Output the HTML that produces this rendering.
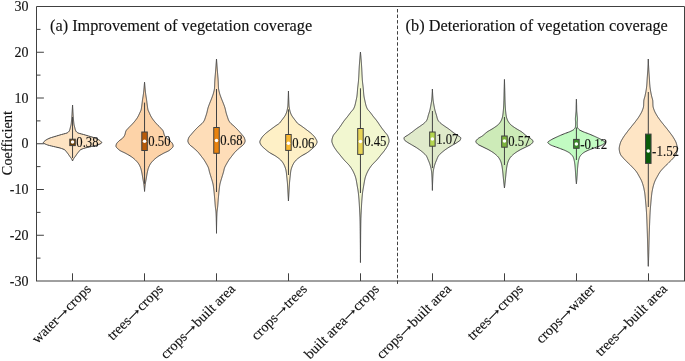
<!DOCTYPE html><html><head><meta charset="utf-8"><style>html,body{margin:0;padding:0;background:#fff;overflow:hidden}svg{display:block;will-change:transform}text{font-family:"Liberation Serif",serif;fill:#111;stroke:#111;stroke-width:0.12px}</style></head><body>
<svg width="685" height="361" viewBox="0 0 685 361">
<rect width="685" height="361" fill="#fff"/>
<path d="M72.55,105.00 L72.58,105.50 L72.60,106.00 L72.63,106.50 L72.66,107.00 L72.68,107.50 L72.71,108.00 L72.74,108.50 L72.77,109.00 L72.80,109.50 L72.83,110.00 L72.86,110.50 L72.89,111.00 L72.92,111.50 L72.95,112.00 L72.98,112.50 L73.01,113.00 L73.04,113.50 L73.07,114.00 L73.10,114.50 L73.14,115.00 L73.17,115.50 L73.20,116.00 L73.24,116.50 L73.27,117.00 L73.31,117.50 L73.35,118.00 L73.39,118.50 L73.43,119.00 L73.47,119.50 L73.51,120.00 L73.56,120.50 L73.60,121.00 L73.65,121.50 L73.70,122.00 L73.76,122.50 L73.82,123.00 L73.88,123.50 L73.95,124.00 L74.03,124.50 L74.13,125.00 L74.24,125.50 L74.36,126.00 L74.49,126.50 L74.62,127.00 L74.75,127.50 L74.88,128.00 L75.00,128.50 L75.12,129.00 L75.26,129.50 L75.42,130.00 L75.62,130.50 L75.85,131.00 L76.18,131.50 L76.66,132.00 L77.29,132.50 L78.15,133.00 L79.71,133.50 L81.67,134.00 L83.55,134.50 L85.23,135.00 L86.90,135.50 L88.56,136.00 L90.22,136.50 L91.95,137.00 L93.62,137.50 L95.05,138.00 L96.25,138.50 L97.31,139.00 L98.25,139.50 L99.06,140.00 L99.80,140.50 L100.44,141.00 L100.95,141.50 L101.40,142.00 L101.71,142.50 L101.63,143.00 L100.98,143.50 L99.94,144.00 L98.71,144.50 L97.40,145.00 L95.64,145.50 L93.57,146.00 L91.45,146.50 L89.35,147.00 L87.10,147.50 L85.04,148.00 L83.48,148.50 L82.15,149.00 L81.02,149.50 L80.18,150.00 L79.63,150.50 L79.23,151.00 L78.88,151.50 L78.49,152.00 L78.09,152.50 L77.70,153.00 L77.32,153.50 L76.95,154.00 L76.59,154.50 L76.25,155.00 L75.91,155.50 L75.57,156.00 L75.22,156.50 L74.85,157.00 L74.46,157.50 L74.08,158.00 L73.73,158.50 L73.44,159.00 L73.18,159.50 L72.94,160.00 L72.73,160.50 L72.55,161.00 L72.55,161.00 L72.37,160.50 L72.16,160.00 L71.92,159.50 L71.66,159.00 L71.37,158.50 L71.02,158.00 L70.64,157.50 L70.25,157.00 L69.88,156.50 L69.53,156.00 L69.19,155.50 L68.85,155.00 L68.51,154.50 L68.15,154.00 L67.78,153.50 L67.40,153.00 L67.01,152.50 L66.61,152.00 L66.22,151.50 L65.87,151.00 L65.47,150.50 L64.92,150.00 L64.08,149.50 L62.95,149.00 L61.62,148.50 L60.06,148.00 L58.00,147.50 L55.75,147.00 L53.65,146.50 L51.53,146.00 L49.46,145.50 L47.70,145.00 L46.39,144.50 L45.16,144.00 L44.12,143.50 L43.47,143.00 L43.39,142.50 L43.70,142.00 L44.15,141.50 L44.66,141.00 L45.30,140.50 L46.04,140.00 L46.85,139.50 L47.79,139.00 L48.85,138.50 L50.05,138.00 L51.48,137.50 L53.15,137.00 L54.88,136.50 L56.54,136.00 L58.20,135.50 L59.87,135.00 L61.55,134.50 L63.43,134.00 L65.39,133.50 L66.95,133.00 L67.81,132.50 L68.44,132.00 L68.92,131.50 L69.25,131.00 L69.48,130.50 L69.68,130.00 L69.84,129.50 L69.98,129.00 L70.10,128.50 L70.22,128.00 L70.35,127.50 L70.48,127.00 L70.61,126.50 L70.74,126.00 L70.86,125.50 L70.97,125.00 L71.07,124.50 L71.15,124.00 L71.22,123.50 L71.28,123.00 L71.34,122.50 L71.40,122.00 L71.45,121.50 L71.50,121.00 L71.54,120.50 L71.59,120.00 L71.63,119.50 L71.67,119.00 L71.71,118.50 L71.75,118.00 L71.79,117.50 L71.83,117.00 L71.86,116.50 L71.90,116.00 L71.93,115.50 L71.96,115.00 L72.00,114.50 L72.03,114.00 L72.06,113.50 L72.09,113.00 L72.12,112.50 L72.15,112.00 L72.18,111.50 L72.21,111.00 L72.24,110.50 L72.27,110.00 L72.30,109.50 L72.33,109.00 L72.36,108.50 L72.39,108.00 L72.42,107.50 L72.44,107.00 L72.47,106.50 L72.50,106.00 L72.52,105.50 L72.55,105.00 Z" fill="#FDE3C2" stroke="#404040" stroke-width="1" stroke-linejoin="round"/>
<path d="M144.55,82.20 L144.59,82.70 L144.63,83.20 L144.67,83.70 L144.71,84.20 L144.76,84.70 L144.80,85.21 L144.84,85.71 L144.89,86.21 L144.93,86.71 L144.98,87.21 L145.02,87.71 L145.07,88.21 L145.12,88.71 L145.16,89.21 L145.21,89.71 L145.26,90.21 L145.30,90.72 L145.35,91.22 L145.41,91.72 L145.46,92.22 L145.52,92.72 L145.58,93.22 L145.64,93.72 L145.71,94.22 L145.78,94.72 L145.86,95.22 L145.94,95.72 L146.02,96.23 L146.10,96.73 L146.18,97.23 L146.27,97.73 L146.35,98.23 L146.42,98.73 L146.50,99.23 L146.57,99.73 L146.64,100.23 L146.70,100.73 L146.77,101.23 L146.83,101.74 L146.89,102.24 L146.95,102.74 L147.02,103.24 L147.08,103.74 L147.15,104.24 L147.21,104.74 L147.28,105.24 L147.35,105.74 L147.41,106.24 L147.48,106.74 L147.54,107.25 L147.61,107.75 L147.69,108.25 L147.77,108.75 L147.87,109.25 L147.99,109.75 L148.14,110.25 L148.34,110.75 L148.56,111.25 L148.80,111.75 L149.05,112.26 L149.28,112.76 L149.51,113.26 L149.73,113.76 L149.95,114.26 L150.18,114.76 L150.42,115.26 L150.66,115.76 L150.92,116.26 L151.20,116.76 L151.49,117.26 L151.80,117.77 L152.13,118.27 L152.47,118.77 L152.82,119.27 L153.18,119.77 L153.55,120.27 L153.94,120.77 L154.35,121.27 L154.77,121.77 L155.20,122.27 L155.64,122.77 L156.09,123.28 L156.55,123.78 L157.01,124.28 L157.48,124.78 L157.98,125.28 L158.48,125.78 L158.99,126.28 L159.49,126.78 L159.98,127.28 L160.45,127.78 L160.91,128.28 L161.39,128.79 L161.87,129.29 L162.32,129.79 L162.72,130.29 L163.04,130.79 L163.27,131.29 L163.45,131.79 L163.59,132.29 L163.72,132.79 L163.83,133.29 L163.96,133.79 L164.10,134.30 L164.27,134.80 L164.48,135.30 L164.74,135.80 L165.05,136.30 L165.39,136.80 L165.77,137.30 L166.18,137.80 L166.64,138.30 L167.24,138.80 L167.92,139.30 L168.64,139.81 L169.33,140.31 L169.95,140.81 L170.46,141.31 L170.97,141.81 L171.46,142.31 L171.91,142.81 L172.29,143.31 L172.57,143.81 L172.77,144.31 L172.94,144.81 L173.07,145.32 L173.14,145.82 L173.12,146.32 L172.95,146.82 L172.65,147.32 L172.25,147.82 L171.76,148.32 L171.22,148.82 L170.65,149.32 L170.06,149.82 L169.43,150.32 L168.61,150.83 L167.65,151.33 L166.60,151.83 L165.52,152.33 L164.45,152.83 L163.46,153.33 L162.56,153.83 L161.67,154.33 L160.79,154.83 L159.93,155.33 L159.10,155.83 L158.31,156.34 L157.58,156.84 L156.89,157.34 L156.24,157.84 L155.61,158.34 L155.02,158.84 L154.45,159.34 L153.91,159.84 L153.40,160.34 L152.92,160.84 L152.44,161.34 L151.99,161.85 L151.55,162.35 L151.15,162.85 L150.78,163.35 L150.44,163.85 L150.14,164.35 L149.86,164.85 L149.60,165.35 L149.35,165.85 L149.11,166.35 L148.89,166.86 L148.69,167.36 L148.50,167.86 L148.33,168.36 L148.17,168.86 L148.03,169.36 L147.90,169.86 L147.77,170.36 L147.65,170.86 L147.54,171.36 L147.44,171.86 L147.34,172.37 L147.24,172.87 L147.14,173.37 L147.04,173.87 L146.95,174.37 L146.86,174.87 L146.77,175.37 L146.68,175.87 L146.60,176.37 L146.52,176.87 L146.44,177.37 L146.35,177.88 L146.27,178.38 L146.19,178.88 L146.10,179.38 L146.01,179.88 L145.92,180.38 L145.83,180.88 L145.74,181.38 L145.64,181.88 L145.55,182.38 L145.47,182.88 L145.38,183.39 L145.30,183.89 L145.23,184.39 L145.16,184.89 L145.10,185.39 L145.04,185.89 L144.99,186.39 L144.93,186.89 L144.88,187.39 L144.83,187.89 L144.78,188.39 L144.73,188.90 L144.69,189.40 L144.65,189.90 L144.61,190.40 L144.58,190.90 L144.55,191.40 L144.55,191.40 L144.52,190.90 L144.49,190.40 L144.45,189.90 L144.41,189.40 L144.37,188.90 L144.32,188.39 L144.27,187.89 L144.22,187.39 L144.17,186.89 L144.11,186.39 L144.06,185.89 L144.00,185.39 L143.94,184.89 L143.87,184.39 L143.80,183.89 L143.72,183.39 L143.63,182.88 L143.55,182.38 L143.46,181.88 L143.36,181.38 L143.27,180.88 L143.18,180.38 L143.09,179.88 L143.00,179.38 L142.91,178.88 L142.83,178.38 L142.75,177.88 L142.66,177.37 L142.58,176.87 L142.50,176.37 L142.42,175.87 L142.33,175.37 L142.24,174.87 L142.15,174.37 L142.06,173.87 L141.96,173.37 L141.86,172.87 L141.76,172.37 L141.66,171.86 L141.56,171.36 L141.45,170.86 L141.33,170.36 L141.20,169.86 L141.07,169.36 L140.93,168.86 L140.77,168.36 L140.60,167.86 L140.41,167.36 L140.21,166.86 L139.99,166.35 L139.75,165.85 L139.50,165.35 L139.24,164.85 L138.96,164.35 L138.66,163.85 L138.32,163.35 L137.95,162.85 L137.55,162.35 L137.11,161.85 L136.66,161.34 L136.18,160.84 L135.70,160.34 L135.19,159.84 L134.65,159.34 L134.08,158.84 L133.49,158.34 L132.86,157.84 L132.21,157.34 L131.52,156.84 L130.79,156.34 L130.00,155.83 L129.17,155.33 L128.31,154.83 L127.43,154.33 L126.54,153.83 L125.64,153.33 L124.65,152.83 L123.58,152.33 L122.50,151.83 L121.45,151.33 L120.49,150.83 L119.67,150.32 L119.04,149.82 L118.45,149.32 L117.88,148.82 L117.34,148.32 L116.85,147.82 L116.45,147.32 L116.15,146.82 L115.98,146.32 L115.96,145.82 L116.03,145.32 L116.16,144.81 L116.33,144.31 L116.53,143.81 L116.81,143.31 L117.19,142.81 L117.64,142.31 L118.13,141.81 L118.64,141.31 L119.15,140.81 L119.77,140.31 L120.46,139.81 L121.18,139.30 L121.86,138.80 L122.46,138.30 L122.92,137.80 L123.33,137.30 L123.71,136.80 L124.05,136.30 L124.36,135.80 L124.62,135.30 L124.83,134.80 L125.00,134.30 L125.14,133.79 L125.27,133.29 L125.38,132.79 L125.51,132.29 L125.65,131.79 L125.83,131.29 L126.06,130.79 L126.38,130.29 L126.78,129.79 L127.23,129.29 L127.71,128.79 L128.19,128.28 L128.65,127.78 L129.12,127.28 L129.61,126.78 L130.11,126.28 L130.62,125.78 L131.12,125.28 L131.62,124.78 L132.09,124.28 L132.55,123.78 L133.01,123.28 L133.46,122.77 L133.90,122.27 L134.33,121.77 L134.75,121.27 L135.16,120.77 L135.55,120.27 L135.92,119.77 L136.28,119.27 L136.63,118.77 L136.97,118.27 L137.30,117.77 L137.61,117.26 L137.90,116.76 L138.18,116.26 L138.44,115.76 L138.68,115.26 L138.92,114.76 L139.15,114.26 L139.37,113.76 L139.59,113.26 L139.82,112.76 L140.05,112.26 L140.30,111.75 L140.54,111.25 L140.76,110.75 L140.96,110.25 L141.11,109.75 L141.23,109.25 L141.33,108.75 L141.41,108.25 L141.49,107.75 L141.56,107.25 L141.62,106.74 L141.69,106.24 L141.75,105.74 L141.82,105.24 L141.89,104.74 L141.95,104.24 L142.02,103.74 L142.08,103.24 L142.15,102.74 L142.21,102.24 L142.27,101.74 L142.33,101.23 L142.40,100.73 L142.46,100.23 L142.53,99.73 L142.60,99.23 L142.68,98.73 L142.75,98.23 L142.83,97.73 L142.92,97.23 L143.00,96.73 L143.08,96.23 L143.16,95.72 L143.24,95.22 L143.32,94.72 L143.39,94.22 L143.46,93.72 L143.52,93.22 L143.58,92.72 L143.64,92.22 L143.69,91.72 L143.75,91.22 L143.80,90.72 L143.84,90.21 L143.89,89.71 L143.94,89.21 L143.98,88.71 L144.03,88.21 L144.08,87.71 L144.12,87.21 L144.17,86.71 L144.21,86.21 L144.26,85.71 L144.30,85.21 L144.34,84.70 L144.39,84.20 L144.43,83.70 L144.47,83.20 L144.51,82.70 L144.55,82.20 Z" fill="#FDD3A8" stroke="#404040" stroke-width="1" stroke-linejoin="round"/>
<path d="M216.50,59.00 L216.54,59.50 L216.57,60.00 L216.61,60.50 L216.65,61.00 L216.68,61.50 L216.72,62.01 L216.76,62.51 L216.79,63.01 L216.83,63.51 L216.87,64.01 L216.91,64.51 L216.94,65.01 L216.98,65.51 L217.02,66.01 L217.06,66.51 L217.09,67.01 L217.13,67.51 L217.17,68.02 L217.21,68.52 L217.25,69.02 L217.29,69.52 L217.32,70.02 L217.36,70.52 L217.40,71.02 L217.44,71.52 L217.48,72.02 L217.52,72.52 L217.57,73.02 L217.61,73.53 L217.65,74.03 L217.70,74.53 L217.74,75.03 L217.79,75.53 L217.83,76.03 L217.87,76.53 L217.92,77.03 L217.96,77.53 L218.00,78.03 L218.04,78.53 L218.07,79.03 L218.11,79.54 L218.14,80.04 L218.17,80.54 L218.20,81.04 L218.23,81.54 L218.25,82.04 L218.27,82.54 L218.29,83.04 L218.30,83.54 L218.32,84.04 L218.34,84.54 L218.35,85.04 L218.37,85.55 L218.39,86.05 L218.41,86.55 L218.44,87.05 L218.47,87.55 L218.50,88.05 L218.55,88.55 L218.62,89.05 L218.70,89.55 L218.79,90.05 L218.90,90.55 L219.01,91.06 L219.14,91.56 L219.26,92.06 L219.39,92.56 L219.51,93.06 L219.65,93.56 L219.80,94.06 L219.96,94.56 L220.12,95.06 L220.30,95.56 L220.48,96.06 L220.67,96.56 L220.85,97.07 L221.04,97.57 L221.22,98.07 L221.41,98.57 L221.61,99.07 L221.81,99.57 L222.02,100.07 L222.22,100.57 L222.43,101.07 L222.64,101.57 L222.84,102.07 L223.04,102.58 L223.23,103.08 L223.42,103.58 L223.61,104.08 L223.81,104.58 L224.00,105.08 L224.19,105.58 L224.37,106.08 L224.55,106.58 L224.72,107.08 L224.88,107.58 L225.02,108.08 L225.16,108.59 L225.29,109.09 L225.40,109.59 L225.52,110.09 L225.63,110.59 L225.74,111.09 L225.85,111.59 L225.97,112.09 L226.09,112.59 L226.23,113.09 L226.37,113.59 L226.52,114.09 L226.67,114.60 L226.83,115.10 L226.99,115.60 L227.16,116.10 L227.33,116.60 L227.50,117.10 L227.67,117.60 L227.83,118.10 L227.99,118.60 L228.16,119.10 L228.34,119.60 L228.55,120.11 L228.80,120.61 L229.10,121.11 L229.43,121.61 L229.79,122.11 L230.18,122.61 L230.60,123.11 L231.09,123.61 L231.65,124.11 L232.25,124.61 L232.87,125.11 L233.47,125.61 L234.02,126.12 L234.55,126.62 L235.07,127.12 L235.58,127.62 L236.08,128.12 L236.58,128.62 L237.07,129.12 L237.54,129.62 L238.01,130.12 L238.48,130.62 L238.93,131.12 L239.38,131.62 L239.82,132.13 L240.26,132.63 L240.68,133.13 L241.10,133.63 L241.51,134.13 L241.93,134.63 L242.37,135.13 L242.82,135.63 L243.24,136.13 L243.63,136.63 L243.97,137.13 L244.25,137.64 L244.45,138.14 L244.62,138.64 L244.78,139.14 L244.92,139.64 L245.02,140.14 L245.09,140.64 L245.10,141.14 L245.02,141.64 L244.87,142.14 L244.65,142.64 L244.39,143.14 L244.11,143.65 L243.81,144.15 L243.42,144.65 L242.92,145.15 L242.35,145.65 L241.72,146.15 L241.07,146.65 L240.42,147.15 L239.80,147.65 L239.23,148.15 L238.67,148.65 L238.11,149.16 L237.54,149.66 L236.99,150.16 L236.44,150.66 L235.92,151.16 L235.42,151.66 L234.95,152.16 L234.51,152.66 L234.10,153.16 L233.69,153.66 L233.30,154.16 L232.92,154.66 L232.54,155.17 L232.16,155.67 L231.77,156.17 L231.38,156.67 L230.99,157.17 L230.60,157.67 L230.22,158.17 L229.84,158.67 L229.47,159.17 L229.12,159.67 L228.78,160.17 L228.46,160.68 L228.14,161.18 L227.83,161.68 L227.53,162.18 L227.24,162.68 L226.96,163.18 L226.68,163.68 L226.40,164.18 L226.12,164.68 L225.84,165.18 L225.56,165.68 L225.30,166.18 L225.05,166.69 L224.81,167.19 L224.61,167.69 L224.44,168.19 L224.29,168.69 L224.16,169.19 L224.04,169.69 L223.93,170.19 L223.82,170.69 L223.70,171.19 L223.58,171.69 L223.45,172.19 L223.31,172.70 L223.16,173.20 L223.01,173.70 L222.86,174.20 L222.71,174.70 L222.55,175.20 L222.40,175.70 L222.24,176.20 L222.09,176.70 L221.94,177.20 L221.79,177.70 L221.63,178.21 L221.47,178.71 L221.32,179.21 L221.16,179.71 L221.01,180.21 L220.86,180.71 L220.71,181.21 L220.58,181.71 L220.44,182.21 L220.31,182.71 L220.19,183.21 L220.06,183.71 L219.95,184.22 L219.85,184.72 L219.76,185.22 L219.69,185.72 L219.61,186.22 L219.54,186.72 L219.48,187.22 L219.41,187.72 L219.35,188.22 L219.30,188.72 L219.24,189.22 L219.19,189.73 L219.13,190.23 L219.08,190.73 L219.03,191.23 L218.98,191.73 L218.92,192.23 L218.87,192.73 L218.82,193.23 L218.77,193.73 L218.73,194.23 L218.68,194.73 L218.63,195.23 L218.59,195.74 L218.54,196.24 L218.50,196.74 L218.45,197.24 L218.41,197.74 L218.37,198.24 L218.32,198.74 L218.28,199.24 L218.24,199.74 L218.20,200.24 L218.16,200.74 L218.12,201.24 L218.08,201.75 L218.04,202.25 L218.01,202.75 L217.97,203.25 L217.93,203.75 L217.89,204.25 L217.85,204.75 L217.80,205.25 L217.76,205.75 L217.71,206.25 L217.66,206.75 L217.61,207.26 L217.54,207.76 L217.48,208.26 L217.41,208.76 L217.34,209.26 L217.27,209.76 L217.21,210.26 L217.15,210.76 L217.09,211.26 L217.05,211.76 L217.01,212.26 L216.98,212.76 L216.95,213.27 L216.92,213.77 L216.90,214.27 L216.87,214.77 L216.85,215.27 L216.83,215.77 L216.81,216.27 L216.79,216.77 L216.78,217.27 L216.76,217.77 L216.74,218.27 L216.73,218.78 L216.72,219.28 L216.71,219.78 L216.69,220.28 L216.68,220.78 L216.67,221.28 L216.66,221.78 L216.65,222.28 L216.64,222.78 L216.63,223.28 L216.62,223.78 L216.61,224.28 L216.60,224.79 L216.59,225.29 L216.58,225.79 L216.57,226.29 L216.56,226.79 L216.55,227.29 L216.54,227.79 L216.54,228.29 L216.53,228.79 L216.52,229.29 L216.52,229.79 L216.51,230.29 L216.51,230.80 L216.51,231.30 L216.50,231.80 L216.50,232.30 L216.50,232.80 L216.50,233.30 L216.50,233.30 L216.50,232.80 L216.50,232.30 L216.50,231.80 L216.49,231.30 L216.49,230.80 L216.49,230.29 L216.48,229.79 L216.48,229.29 L216.47,228.79 L216.46,228.29 L216.46,227.79 L216.45,227.29 L216.44,226.79 L216.43,226.29 L216.42,225.79 L216.41,225.29 L216.40,224.79 L216.39,224.28 L216.38,223.78 L216.37,223.28 L216.36,222.78 L216.35,222.28 L216.34,221.78 L216.33,221.28 L216.32,220.78 L216.31,220.28 L216.29,219.78 L216.28,219.28 L216.27,218.78 L216.26,218.27 L216.24,217.77 L216.22,217.27 L216.21,216.77 L216.19,216.27 L216.17,215.77 L216.15,215.27 L216.13,214.77 L216.10,214.27 L216.08,213.77 L216.05,213.27 L216.02,212.76 L215.99,212.26 L215.95,211.76 L215.91,211.26 L215.85,210.76 L215.79,210.26 L215.73,209.76 L215.66,209.26 L215.59,208.76 L215.52,208.26 L215.46,207.76 L215.39,207.26 L215.34,206.75 L215.29,206.25 L215.24,205.75 L215.20,205.25 L215.15,204.75 L215.11,204.25 L215.07,203.75 L215.03,203.25 L214.99,202.75 L214.96,202.25 L214.92,201.75 L214.88,201.24 L214.84,200.74 L214.80,200.24 L214.76,199.74 L214.72,199.24 L214.68,198.74 L214.63,198.24 L214.59,197.74 L214.55,197.24 L214.50,196.74 L214.46,196.24 L214.41,195.74 L214.37,195.23 L214.32,194.73 L214.27,194.23 L214.23,193.73 L214.18,193.23 L214.13,192.73 L214.08,192.23 L214.02,191.73 L213.97,191.23 L213.92,190.73 L213.87,190.23 L213.81,189.73 L213.76,189.22 L213.70,188.72 L213.65,188.22 L213.59,187.72 L213.52,187.22 L213.46,186.72 L213.39,186.22 L213.31,185.72 L213.24,185.22 L213.15,184.72 L213.05,184.22 L212.94,183.71 L212.81,183.21 L212.69,182.71 L212.56,182.21 L212.42,181.71 L212.29,181.21 L212.14,180.71 L211.99,180.21 L211.84,179.71 L211.68,179.21 L211.53,178.71 L211.37,178.21 L211.21,177.70 L211.06,177.20 L210.91,176.70 L210.76,176.20 L210.60,175.70 L210.45,175.20 L210.29,174.70 L210.14,174.20 L209.99,173.70 L209.84,173.20 L209.69,172.70 L209.55,172.19 L209.42,171.69 L209.30,171.19 L209.18,170.69 L209.07,170.19 L208.96,169.69 L208.84,169.19 L208.71,168.69 L208.56,168.19 L208.39,167.69 L208.19,167.19 L207.95,166.69 L207.70,166.18 L207.44,165.68 L207.16,165.18 L206.88,164.68 L206.60,164.18 L206.32,163.68 L206.04,163.18 L205.76,162.68 L205.47,162.18 L205.17,161.68 L204.86,161.18 L204.54,160.68 L204.22,160.17 L203.88,159.67 L203.53,159.17 L203.16,158.67 L202.78,158.17 L202.40,157.67 L202.01,157.17 L201.62,156.67 L201.23,156.17 L200.84,155.67 L200.46,155.17 L200.08,154.66 L199.70,154.16 L199.31,153.66 L198.90,153.16 L198.49,152.66 L198.05,152.16 L197.58,151.66 L197.08,151.16 L196.56,150.66 L196.01,150.16 L195.46,149.66 L194.89,149.16 L194.33,148.65 L193.77,148.15 L193.20,147.65 L192.58,147.15 L191.93,146.65 L191.28,146.15 L190.65,145.65 L190.08,145.15 L189.58,144.65 L189.19,144.15 L188.89,143.65 L188.61,143.14 L188.35,142.64 L188.13,142.14 L187.98,141.64 L187.90,141.14 L187.91,140.64 L187.98,140.14 L188.08,139.64 L188.22,139.14 L188.38,138.64 L188.55,138.14 L188.75,137.64 L189.03,137.13 L189.37,136.63 L189.76,136.13 L190.18,135.63 L190.63,135.13 L191.07,134.63 L191.49,134.13 L191.90,133.63 L192.32,133.13 L192.74,132.63 L193.18,132.13 L193.62,131.62 L194.07,131.12 L194.52,130.62 L194.99,130.12 L195.46,129.62 L195.93,129.12 L196.42,128.62 L196.92,128.12 L197.42,127.62 L197.93,127.12 L198.45,126.62 L198.98,126.12 L199.53,125.61 L200.13,125.11 L200.75,124.61 L201.35,124.11 L201.91,123.61 L202.40,123.11 L202.82,122.61 L203.21,122.11 L203.57,121.61 L203.90,121.11 L204.20,120.61 L204.45,120.11 L204.66,119.60 L204.84,119.10 L205.01,118.60 L205.17,118.10 L205.33,117.60 L205.50,117.10 L205.67,116.60 L205.84,116.10 L206.01,115.60 L206.17,115.10 L206.33,114.60 L206.48,114.09 L206.63,113.59 L206.77,113.09 L206.91,112.59 L207.03,112.09 L207.15,111.59 L207.26,111.09 L207.37,110.59 L207.48,110.09 L207.60,109.59 L207.71,109.09 L207.84,108.59 L207.98,108.08 L208.12,107.58 L208.28,107.08 L208.45,106.58 L208.63,106.08 L208.81,105.58 L209.00,105.08 L209.19,104.58 L209.39,104.08 L209.58,103.58 L209.77,103.08 L209.96,102.58 L210.16,102.07 L210.36,101.57 L210.57,101.07 L210.78,100.57 L210.98,100.07 L211.19,99.57 L211.39,99.07 L211.59,98.57 L211.78,98.07 L211.96,97.57 L212.15,97.07 L212.33,96.56 L212.52,96.06 L212.70,95.56 L212.88,95.06 L213.04,94.56 L213.20,94.06 L213.35,93.56 L213.49,93.06 L213.61,92.56 L213.74,92.06 L213.86,91.56 L213.99,91.06 L214.10,90.55 L214.21,90.05 L214.30,89.55 L214.38,89.05 L214.45,88.55 L214.50,88.05 L214.53,87.55 L214.56,87.05 L214.59,86.55 L214.61,86.05 L214.63,85.55 L214.65,85.04 L214.66,84.54 L214.68,84.04 L214.70,83.54 L214.71,83.04 L214.73,82.54 L214.75,82.04 L214.77,81.54 L214.80,81.04 L214.83,80.54 L214.86,80.04 L214.89,79.54 L214.93,79.03 L214.96,78.53 L215.00,78.03 L215.04,77.53 L215.08,77.03 L215.13,76.53 L215.17,76.03 L215.21,75.53 L215.26,75.03 L215.30,74.53 L215.35,74.03 L215.39,73.53 L215.43,73.02 L215.48,72.52 L215.52,72.02 L215.56,71.52 L215.60,71.02 L215.64,70.52 L215.68,70.02 L215.71,69.52 L215.75,69.02 L215.79,68.52 L215.83,68.02 L215.87,67.51 L215.91,67.01 L215.94,66.51 L215.98,66.01 L216.02,65.51 L216.06,65.01 L216.09,64.51 L216.13,64.01 L216.17,63.51 L216.21,63.01 L216.24,62.51 L216.28,62.01 L216.32,61.50 L216.35,61.00 L216.39,60.50 L216.43,60.00 L216.46,59.50 L216.50,59.00 Z" fill="#FEDDB8" stroke="#404040" stroke-width="1" stroke-linejoin="round"/>
<path d="M288.45,91.00 L288.46,91.50 L288.47,92.00 L288.49,92.50 L288.50,93.00 L288.52,93.50 L288.53,94.00 L288.55,94.50 L288.56,95.00 L288.58,95.50 L288.60,96.00 L288.62,96.50 L288.63,97.00 L288.65,97.50 L288.67,98.00 L288.69,98.50 L288.71,99.00 L288.73,99.50 L288.75,100.00 L288.77,100.50 L288.79,101.00 L288.81,101.50 L288.83,102.00 L288.85,102.50 L288.87,103.00 L288.89,103.50 L288.92,104.00 L288.95,104.50 L288.98,105.00 L289.01,105.50 L289.05,106.00 L289.10,106.50 L289.18,107.00 L289.26,107.50 L289.35,108.00 L289.44,108.50 L289.52,109.00 L289.62,109.50 L289.72,110.00 L289.83,110.50 L289.95,111.00 L290.09,111.50 L290.24,112.00 L290.40,112.50 L290.59,113.00 L290.78,113.50 L290.99,114.00 L291.21,114.50 L291.45,115.00 L291.72,115.50 L292.03,116.00 L292.36,116.50 L292.72,117.00 L293.09,117.50 L293.45,118.00 L293.82,118.50 L294.19,119.00 L294.58,119.50 L294.98,120.00 L295.37,120.50 L295.75,121.00 L296.11,121.50 L296.45,122.00 L296.82,122.50 L297.25,123.00 L297.80,123.50 L298.46,124.00 L299.19,124.50 L299.96,125.00 L300.73,125.50 L301.45,126.00 L302.14,126.50 L302.82,127.00 L303.51,127.50 L304.19,128.00 L304.86,128.50 L305.53,129.00 L306.20,129.50 L306.85,130.00 L307.51,130.50 L308.17,131.00 L308.83,131.50 L309.48,132.00 L310.12,132.50 L310.73,133.00 L311.31,133.50 L311.85,134.00 L312.36,134.50 L312.87,135.00 L313.36,135.50 L313.83,136.00 L314.27,136.50 L314.67,137.00 L315.04,137.50 L315.35,138.00 L315.64,138.50 L315.94,139.00 L316.22,139.50 L316.49,140.00 L316.71,140.50 L316.89,141.00 L317.01,141.50 L317.05,142.00 L317.00,142.50 L316.86,143.00 L316.66,143.50 L316.41,144.00 L316.13,144.50 L315.85,145.00 L315.52,145.50 L315.12,146.00 L314.65,146.50 L314.13,147.00 L313.57,147.50 L313.00,148.00 L312.42,148.50 L311.85,149.00 L311.28,149.50 L310.70,150.00 L310.10,150.50 L309.48,151.00 L308.83,151.50 L308.16,152.00 L307.45,152.50 L306.68,153.00 L305.83,153.50 L304.93,154.00 L304.01,154.50 L303.10,155.00 L302.22,155.50 L301.40,156.00 L300.66,156.50 L299.95,157.00 L299.25,157.50 L298.58,158.00 L297.93,158.50 L297.31,159.00 L296.74,159.50 L296.21,160.00 L295.74,160.50 L295.31,161.00 L294.91,161.50 L294.53,162.00 L294.18,162.50 L293.84,163.00 L293.53,163.50 L293.25,164.00 L292.99,164.50 L292.75,165.00 L292.53,165.50 L292.32,166.00 L292.11,166.50 L291.91,167.00 L291.73,167.50 L291.56,168.00 L291.39,168.50 L291.24,169.00 L291.11,169.50 L290.99,170.00 L290.89,170.50 L290.80,171.00 L290.72,171.50 L290.65,172.00 L290.58,172.50 L290.52,173.00 L290.46,173.50 L290.41,174.00 L290.35,174.50 L290.30,175.00 L290.25,175.50 L290.20,176.00 L290.15,176.50 L290.10,177.00 L290.04,177.50 L289.99,178.00 L289.93,178.50 L289.88,179.00 L289.83,179.50 L289.78,180.00 L289.73,180.50 L289.68,181.00 L289.63,181.50 L289.59,182.00 L289.54,182.50 L289.50,183.00 L289.46,183.50 L289.43,184.00 L289.39,184.50 L289.36,185.00 L289.33,185.50 L289.30,186.00 L289.27,186.50 L289.24,187.00 L289.21,187.50 L289.18,188.00 L289.16,188.50 L289.13,189.00 L289.10,189.50 L289.08,190.00 L289.05,190.50 L289.02,191.00 L289.00,191.50 L288.97,192.00 L288.94,192.50 L288.91,193.00 L288.88,193.50 L288.85,194.00 L288.82,194.50 L288.79,195.00 L288.77,195.50 L288.74,196.00 L288.71,196.50 L288.68,197.00 L288.65,197.50 L288.62,198.00 L288.59,198.50 L288.56,199.00 L288.54,199.50 L288.51,200.00 L288.48,200.50 L288.45,201.00 L288.45,201.00 L288.42,200.50 L288.39,200.00 L288.36,199.50 L288.34,199.00 L288.31,198.50 L288.28,198.00 L288.25,197.50 L288.22,197.00 L288.19,196.50 L288.16,196.00 L288.13,195.50 L288.11,195.00 L288.08,194.50 L288.05,194.00 L288.02,193.50 L287.99,193.00 L287.96,192.50 L287.93,192.00 L287.90,191.50 L287.88,191.00 L287.85,190.50 L287.82,190.00 L287.80,189.50 L287.77,189.00 L287.74,188.50 L287.72,188.00 L287.69,187.50 L287.66,187.00 L287.63,186.50 L287.60,186.00 L287.57,185.50 L287.54,185.00 L287.51,184.50 L287.47,184.00 L287.44,183.50 L287.40,183.00 L287.36,182.50 L287.31,182.00 L287.27,181.50 L287.22,181.00 L287.17,180.50 L287.12,180.00 L287.07,179.50 L287.02,179.00 L286.97,178.50 L286.91,178.00 L286.86,177.50 L286.80,177.00 L286.75,176.50 L286.70,176.00 L286.65,175.50 L286.60,175.00 L286.55,174.50 L286.49,174.00 L286.44,173.50 L286.38,173.00 L286.32,172.50 L286.25,172.00 L286.18,171.50 L286.10,171.00 L286.01,170.50 L285.91,170.00 L285.79,169.50 L285.66,169.00 L285.51,168.50 L285.34,168.00 L285.17,167.50 L284.99,167.00 L284.79,166.50 L284.58,166.00 L284.37,165.50 L284.15,165.00 L283.91,164.50 L283.65,164.00 L283.37,163.50 L283.06,163.00 L282.72,162.50 L282.37,162.00 L281.99,161.50 L281.59,161.00 L281.16,160.50 L280.69,160.00 L280.16,159.50 L279.59,159.00 L278.97,158.50 L278.32,158.00 L277.65,157.50 L276.95,157.00 L276.24,156.50 L275.50,156.00 L274.68,155.50 L273.80,155.00 L272.89,154.50 L271.97,154.00 L271.07,153.50 L270.22,153.00 L269.45,152.50 L268.74,152.00 L268.07,151.50 L267.42,151.00 L266.80,150.50 L266.20,150.00 L265.62,149.50 L265.05,149.00 L264.48,148.50 L263.90,148.00 L263.33,147.50 L262.77,147.00 L262.25,146.50 L261.78,146.00 L261.38,145.50 L261.05,145.00 L260.77,144.50 L260.49,144.00 L260.24,143.50 L260.04,143.00 L259.90,142.50 L259.85,142.00 L259.89,141.50 L260.01,141.00 L260.19,140.50 L260.41,140.00 L260.68,139.50 L260.96,139.00 L261.26,138.50 L261.55,138.00 L261.86,137.50 L262.23,137.00 L262.63,136.50 L263.07,136.00 L263.54,135.50 L264.03,135.00 L264.54,134.50 L265.05,134.00 L265.59,133.50 L266.17,133.00 L266.78,132.50 L267.42,132.00 L268.07,131.50 L268.73,131.00 L269.39,130.50 L270.05,130.00 L270.70,129.50 L271.37,129.00 L272.04,128.50 L272.71,128.00 L273.39,127.50 L274.08,127.00 L274.76,126.50 L275.45,126.00 L276.17,125.50 L276.94,125.00 L277.71,124.50 L278.44,124.00 L279.10,123.50 L279.65,123.00 L280.08,122.50 L280.45,122.00 L280.79,121.50 L281.15,121.00 L281.53,120.50 L281.92,120.00 L282.32,119.50 L282.71,119.00 L283.08,118.50 L283.45,118.00 L283.81,117.50 L284.18,117.00 L284.54,116.50 L284.87,116.00 L285.18,115.50 L285.45,115.00 L285.69,114.50 L285.91,114.00 L286.12,113.50 L286.31,113.00 L286.50,112.50 L286.66,112.00 L286.81,111.50 L286.95,111.00 L287.07,110.50 L287.18,110.00 L287.28,109.50 L287.38,109.00 L287.46,108.50 L287.55,108.00 L287.64,107.50 L287.72,107.00 L287.80,106.50 L287.85,106.00 L287.89,105.50 L287.92,105.00 L287.95,104.50 L287.98,104.00 L288.01,103.50 L288.03,103.00 L288.05,102.50 L288.07,102.00 L288.09,101.50 L288.11,101.00 L288.13,100.50 L288.15,100.00 L288.17,99.50 L288.19,99.00 L288.21,98.50 L288.23,98.00 L288.25,97.50 L288.27,97.00 L288.28,96.50 L288.30,96.00 L288.32,95.50 L288.34,95.00 L288.35,94.50 L288.37,94.00 L288.38,93.50 L288.40,93.00 L288.41,92.50 L288.43,92.00 L288.44,91.50 L288.45,91.00 Z" fill="#FEF0C6" stroke="#404040" stroke-width="1" stroke-linejoin="round"/>
<path d="M360.45,52.00 L360.50,52.50 L360.54,53.00 L360.59,53.50 L360.63,54.00 L360.68,54.50 L360.72,55.00 L360.77,55.50 L360.81,56.00 L360.86,56.50 L360.90,57.00 L360.94,57.50 L360.98,58.00 L361.02,58.50 L361.07,59.00 L361.11,59.50 L361.15,60.00 L361.19,60.50 L361.22,61.00 L361.26,61.50 L361.30,62.00 L361.34,62.50 L361.38,63.00 L361.41,63.50 L361.45,64.00 L361.48,64.50 L361.52,65.00 L361.55,65.50 L361.58,66.00 L361.62,66.50 L361.65,67.00 L361.68,67.50 L361.71,68.00 L361.74,68.50 L361.77,69.00 L361.79,69.50 L361.82,70.00 L361.84,70.50 L361.87,71.00 L361.89,71.50 L361.91,72.00 L361.94,72.50 L361.96,73.00 L361.98,73.50 L362.01,74.00 L362.03,74.50 L362.06,75.00 L362.08,75.50 L362.11,76.00 L362.13,76.50 L362.16,77.00 L362.19,77.50 L362.22,78.00 L362.25,78.50 L362.28,79.00 L362.31,79.50 L362.35,80.00 L362.39,80.50 L362.43,81.00 L362.48,81.50 L362.53,82.00 L362.58,82.50 L362.64,83.00 L362.70,83.50 L362.76,84.00 L362.82,84.50 L362.88,85.00 L362.94,85.50 L363.00,86.00 L363.05,86.50 L363.11,87.00 L363.17,87.50 L363.22,88.00 L363.27,88.50 L363.32,89.00 L363.36,89.50 L363.40,90.00 L363.44,90.50 L363.48,91.00 L363.52,91.50 L363.56,92.00 L363.60,92.50 L363.64,93.00 L363.68,93.50 L363.73,94.00 L363.78,94.50 L363.83,95.00 L363.89,95.50 L363.95,96.00 L364.02,96.50 L364.10,97.00 L364.19,97.50 L364.29,98.00 L364.39,98.50 L364.50,99.00 L364.61,99.50 L364.73,100.00 L364.84,100.50 L364.95,101.00 L365.06,101.50 L365.16,102.00 L365.27,102.50 L365.38,103.00 L365.49,103.50 L365.60,104.00 L365.73,104.50 L365.86,105.00 L366.00,105.50 L366.15,106.00 L366.32,106.50 L366.50,107.00 L366.70,107.50 L366.93,108.00 L367.18,108.50 L367.45,109.00 L367.78,109.50 L368.18,110.00 L368.62,110.50 L369.08,111.00 L369.53,111.50 L369.95,112.00 L370.34,112.50 L370.72,113.00 L371.09,113.50 L371.46,114.00 L371.83,114.50 L372.19,115.00 L372.57,115.50 L372.95,116.00 L373.34,116.50 L373.74,117.00 L374.15,117.50 L374.56,118.00 L374.97,118.50 L375.38,119.00 L375.79,119.50 L376.19,120.00 L376.58,120.50 L376.95,121.00 L377.31,121.50 L377.66,122.00 L378.01,122.50 L378.34,123.00 L378.68,123.50 L379.01,124.00 L379.34,124.50 L379.67,125.00 L380.01,125.50 L380.35,126.00 L380.69,126.50 L381.04,127.00 L381.39,127.50 L381.75,128.00 L382.12,128.50 L382.50,129.00 L382.89,129.50 L383.28,130.00 L383.68,130.50 L384.07,131.00 L384.46,131.50 L384.85,132.00 L385.25,132.50 L385.68,133.00 L386.12,133.50 L386.55,134.00 L386.95,134.50 L387.32,135.00 L387.62,135.50 L387.85,136.00 L388.03,136.50 L388.21,137.00 L388.38,137.50 L388.54,138.00 L388.68,138.50 L388.81,139.00 L388.91,139.50 L388.98,140.00 L389.03,140.50 L389.05,141.00 L389.02,141.50 L388.94,142.00 L388.81,142.50 L388.65,143.00 L388.46,143.50 L388.26,144.00 L388.05,144.50 L387.85,145.00 L387.64,145.50 L387.39,146.00 L387.13,146.50 L386.84,147.00 L386.53,147.50 L386.21,148.00 L385.88,148.50 L385.54,149.00 L385.19,149.50 L384.85,150.00 L384.50,150.50 L384.12,151.00 L383.74,151.50 L383.34,152.00 L382.93,152.50 L382.51,153.00 L382.09,153.50 L381.67,154.00 L381.26,154.50 L380.85,155.00 L380.45,155.50 L380.05,156.00 L379.65,156.50 L379.25,157.00 L378.85,157.50 L378.45,158.00 L378.04,158.50 L377.62,159.00 L377.19,159.50 L376.75,160.00 L376.29,160.50 L375.81,161.00 L375.31,161.50 L374.81,162.00 L374.31,162.50 L373.83,163.00 L373.36,163.50 L372.89,164.00 L372.42,164.50 L371.97,165.00 L371.54,165.50 L371.15,166.00 L370.78,166.50 L370.42,167.00 L370.08,167.50 L369.74,168.00 L369.41,168.50 L369.10,169.00 L368.79,169.50 L368.50,170.00 L368.22,170.50 L367.95,171.00 L367.69,171.50 L367.45,172.00 L367.22,172.50 L366.99,173.00 L366.76,173.50 L366.55,174.00 L366.34,174.50 L366.14,175.00 L365.95,175.50 L365.76,176.00 L365.59,176.50 L365.43,177.00 L365.28,177.50 L365.15,178.00 L365.03,178.50 L364.91,179.00 L364.80,179.50 L364.69,180.00 L364.59,180.50 L364.50,181.00 L364.41,181.50 L364.32,182.00 L364.24,182.50 L364.15,183.00 L364.07,183.50 L363.99,184.00 L363.90,184.50 L363.82,185.00 L363.73,185.50 L363.65,186.00 L363.56,186.50 L363.47,187.00 L363.38,187.50 L363.29,188.00 L363.21,188.50 L363.12,189.00 L363.04,189.50 L362.96,190.00 L362.88,190.50 L362.80,191.00 L362.73,191.50 L362.66,192.00 L362.60,192.50 L362.54,193.00 L362.48,193.50 L362.43,194.00 L362.37,194.50 L362.32,195.00 L362.27,195.50 L362.23,196.00 L362.18,196.50 L362.13,197.00 L362.09,197.50 L362.05,198.00 L362.00,198.50 L361.96,199.00 L361.93,199.50 L361.89,200.00 L361.85,200.50 L361.81,201.00 L361.78,201.50 L361.74,202.00 L361.71,202.50 L361.68,203.00 L361.64,203.50 L361.61,204.00 L361.58,204.50 L361.55,205.00 L361.53,205.50 L361.50,206.00 L361.47,206.50 L361.44,207.00 L361.42,207.50 L361.39,208.00 L361.36,208.50 L361.34,209.00 L361.31,209.50 L361.29,210.00 L361.26,210.50 L361.24,211.00 L361.22,211.50 L361.19,212.00 L361.16,212.50 L361.14,213.00 L361.11,213.50 L361.09,214.00 L361.06,214.50 L361.04,215.00 L361.01,215.50 L360.99,216.00 L360.97,216.50 L360.95,217.00 L360.93,217.50 L360.91,218.00 L360.89,218.50 L360.87,219.00 L360.86,219.50 L360.85,220.00 L360.84,220.50 L360.83,221.00 L360.82,221.50 L360.81,222.00 L360.80,222.50 L360.79,223.00 L360.78,223.50 L360.78,224.00 L360.77,224.50 L360.76,225.00 L360.75,225.50 L360.75,226.00 L360.74,226.50 L360.73,227.00 L360.73,227.50 L360.72,228.00 L360.71,228.50 L360.71,229.00 L360.70,229.50 L360.69,230.00 L360.69,230.50 L360.68,231.00 L360.68,231.50 L360.67,232.00 L360.67,232.50 L360.66,233.00 L360.66,233.50 L360.65,234.00 L360.65,234.50 L360.64,235.00 L360.64,235.50 L360.64,236.00 L360.63,236.50 L360.63,237.00 L360.62,237.50 L360.62,238.00 L360.61,238.50 L360.61,239.00 L360.60,239.50 L360.60,240.00 L360.60,240.50 L360.59,241.00 L360.59,241.50 L360.58,242.00 L360.58,242.50 L360.57,243.00 L360.57,243.50 L360.57,244.00 L360.56,244.50 L360.56,245.00 L360.55,245.50 L360.55,246.00 L360.55,246.50 L360.54,247.00 L360.54,247.50 L360.53,248.00 L360.53,248.50 L360.53,249.00 L360.52,249.50 L360.52,250.00 L360.52,250.50 L360.51,251.00 L360.51,251.50 L360.51,252.00 L360.50,252.50 L360.50,253.00 L360.50,253.50 L360.49,254.00 L360.49,254.50 L360.49,255.00 L360.48,255.50 L360.48,256.00 L360.48,256.50 L360.47,257.00 L360.47,257.50 L360.47,258.00 L360.47,258.50 L360.46,259.00 L360.46,259.50 L360.46,260.00 L360.46,260.50 L360.46,261.00 L360.45,261.50 L360.45,262.00 L360.45,262.50 L360.45,262.50 L360.45,262.00 L360.45,261.50 L360.44,261.00 L360.44,260.50 L360.44,260.00 L360.44,259.50 L360.44,259.00 L360.43,258.50 L360.43,258.00 L360.43,257.50 L360.43,257.00 L360.42,256.50 L360.42,256.00 L360.42,255.50 L360.41,255.00 L360.41,254.50 L360.41,254.00 L360.40,253.50 L360.40,253.00 L360.40,252.50 L360.39,252.00 L360.39,251.50 L360.39,251.00 L360.38,250.50 L360.38,250.00 L360.38,249.50 L360.37,249.00 L360.37,248.50 L360.37,248.00 L360.36,247.50 L360.36,247.00 L360.35,246.50 L360.35,246.00 L360.35,245.50 L360.34,245.00 L360.34,244.50 L360.33,244.00 L360.33,243.50 L360.33,243.00 L360.32,242.50 L360.32,242.00 L360.31,241.50 L360.31,241.00 L360.30,240.50 L360.30,240.00 L360.30,239.50 L360.29,239.00 L360.29,238.50 L360.28,238.00 L360.28,237.50 L360.27,237.00 L360.27,236.50 L360.26,236.00 L360.26,235.50 L360.26,235.00 L360.25,234.50 L360.25,234.00 L360.24,233.50 L360.24,233.00 L360.23,232.50 L360.23,232.00 L360.22,231.50 L360.22,231.00 L360.21,230.50 L360.21,230.00 L360.20,229.50 L360.19,229.00 L360.19,228.50 L360.18,228.00 L360.17,227.50 L360.17,227.00 L360.16,226.50 L360.15,226.00 L360.15,225.50 L360.14,225.00 L360.13,224.50 L360.12,224.00 L360.12,223.50 L360.11,223.00 L360.10,222.50 L360.09,222.00 L360.08,221.50 L360.07,221.00 L360.06,220.50 L360.05,220.00 L360.04,219.50 L360.03,219.00 L360.01,218.50 L359.99,218.00 L359.97,217.50 L359.95,217.00 L359.93,216.50 L359.91,216.00 L359.89,215.50 L359.86,215.00 L359.84,214.50 L359.81,214.00 L359.79,213.50 L359.76,213.00 L359.74,212.50 L359.71,212.00 L359.68,211.50 L359.66,211.00 L359.64,210.50 L359.61,210.00 L359.59,209.50 L359.56,209.00 L359.54,208.50 L359.51,208.00 L359.48,207.50 L359.46,207.00 L359.43,206.50 L359.40,206.00 L359.37,205.50 L359.35,205.00 L359.32,204.50 L359.29,204.00 L359.26,203.50 L359.22,203.00 L359.19,202.50 L359.16,202.00 L359.12,201.50 L359.09,201.00 L359.05,200.50 L359.01,200.00 L358.97,199.50 L358.94,199.00 L358.90,198.50 L358.85,198.00 L358.81,197.50 L358.77,197.00 L358.72,196.50 L358.67,196.00 L358.63,195.50 L358.58,195.00 L358.53,194.50 L358.47,194.00 L358.42,193.50 L358.36,193.00 L358.30,192.50 L358.24,192.00 L358.17,191.50 L358.10,191.00 L358.02,190.50 L357.94,190.00 L357.86,189.50 L357.78,189.00 L357.69,188.50 L357.61,188.00 L357.52,187.50 L357.43,187.00 L357.34,186.50 L357.25,186.00 L357.17,185.50 L357.08,185.00 L357.00,184.50 L356.91,184.00 L356.83,183.50 L356.75,183.00 L356.66,182.50 L356.58,182.00 L356.49,181.50 L356.40,181.00 L356.31,180.50 L356.21,180.00 L356.10,179.50 L355.99,179.00 L355.87,178.50 L355.75,178.00 L355.62,177.50 L355.47,177.00 L355.31,176.50 L355.14,176.00 L354.95,175.50 L354.76,175.00 L354.56,174.50 L354.35,174.00 L354.14,173.50 L353.91,173.00 L353.68,172.50 L353.45,172.00 L353.21,171.50 L352.95,171.00 L352.68,170.50 L352.40,170.00 L352.11,169.50 L351.80,169.00 L351.49,168.50 L351.16,168.00 L350.82,167.50 L350.48,167.00 L350.12,166.50 L349.75,166.00 L349.36,165.50 L348.93,165.00 L348.48,164.50 L348.01,164.00 L347.54,163.50 L347.07,163.00 L346.59,162.50 L346.09,162.00 L345.59,161.50 L345.09,161.00 L344.61,160.50 L344.15,160.00 L343.71,159.50 L343.28,159.00 L342.86,158.50 L342.45,158.00 L342.05,157.50 L341.65,157.00 L341.25,156.50 L340.85,156.00 L340.45,155.50 L340.05,155.00 L339.64,154.50 L339.23,154.00 L338.81,153.50 L338.39,153.00 L337.97,152.50 L337.56,152.00 L337.16,151.50 L336.78,151.00 L336.40,150.50 L336.05,150.00 L335.71,149.50 L335.36,149.00 L335.02,148.50 L334.69,148.00 L334.37,147.50 L334.06,147.00 L333.77,146.50 L333.51,146.00 L333.26,145.50 L333.05,145.00 L332.85,144.50 L332.64,144.00 L332.44,143.50 L332.25,143.00 L332.09,142.50 L331.96,142.00 L331.88,141.50 L331.85,141.00 L331.87,140.50 L331.92,140.00 L331.99,139.50 L332.09,139.00 L332.22,138.50 L332.36,138.00 L332.52,137.50 L332.69,137.00 L332.87,136.50 L333.05,136.00 L333.28,135.50 L333.58,135.00 L333.95,134.50 L334.35,134.00 L334.78,133.50 L335.22,133.00 L335.65,132.50 L336.05,132.00 L336.44,131.50 L336.83,131.00 L337.22,130.50 L337.62,130.00 L338.01,129.50 L338.40,129.00 L338.78,128.50 L339.15,128.00 L339.51,127.50 L339.86,127.00 L340.21,126.50 L340.55,126.00 L340.89,125.50 L341.23,125.00 L341.56,124.50 L341.89,124.00 L342.22,123.50 L342.56,123.00 L342.89,122.50 L343.24,122.00 L343.59,121.50 L343.95,121.00 L344.32,120.50 L344.71,120.00 L345.11,119.50 L345.52,119.00 L345.93,118.50 L346.34,118.00 L346.75,117.50 L347.16,117.00 L347.56,116.50 L347.95,116.00 L348.33,115.50 L348.71,115.00 L349.07,114.50 L349.44,114.00 L349.81,113.50 L350.18,113.00 L350.56,112.50 L350.95,112.00 L351.37,111.50 L351.82,111.00 L352.28,110.50 L352.72,110.00 L353.12,109.50 L353.45,109.00 L353.72,108.50 L353.97,108.00 L354.20,107.50 L354.40,107.00 L354.58,106.50 L354.75,106.00 L354.90,105.50 L355.04,105.00 L355.17,104.50 L355.30,104.00 L355.41,103.50 L355.52,103.00 L355.63,102.50 L355.74,102.00 L355.84,101.50 L355.95,101.00 L356.06,100.50 L356.17,100.00 L356.29,99.50 L356.40,99.00 L356.51,98.50 L356.61,98.00 L356.71,97.50 L356.80,97.00 L356.88,96.50 L356.95,96.00 L357.01,95.50 L357.07,95.00 L357.12,94.50 L357.17,94.00 L357.22,93.50 L357.26,93.00 L357.30,92.50 L357.34,92.00 L357.38,91.50 L357.42,91.00 L357.46,90.50 L357.50,90.00 L357.54,89.50 L357.58,89.00 L357.63,88.50 L357.68,88.00 L357.73,87.50 L357.79,87.00 L357.85,86.50 L357.90,86.00 L357.96,85.50 L358.02,85.00 L358.08,84.50 L358.14,84.00 L358.20,83.50 L358.26,83.00 L358.32,82.50 L358.37,82.00 L358.42,81.50 L358.47,81.00 L358.51,80.50 L358.55,80.00 L358.59,79.50 L358.62,79.00 L358.65,78.50 L358.68,78.00 L358.71,77.50 L358.74,77.00 L358.77,76.50 L358.79,76.00 L358.82,75.50 L358.84,75.00 L358.87,74.50 L358.89,74.00 L358.92,73.50 L358.94,73.00 L358.96,72.50 L358.99,72.00 L359.01,71.50 L359.03,71.00 L359.06,70.50 L359.08,70.00 L359.11,69.50 L359.13,69.00 L359.16,68.50 L359.19,68.00 L359.22,67.50 L359.25,67.00 L359.28,66.50 L359.32,66.00 L359.35,65.50 L359.38,65.00 L359.42,64.50 L359.45,64.00 L359.49,63.50 L359.52,63.00 L359.56,62.50 L359.60,62.00 L359.64,61.50 L359.68,61.00 L359.71,60.50 L359.75,60.00 L359.79,59.50 L359.83,59.00 L359.88,58.50 L359.92,58.00 L359.96,57.50 L360.00,57.00 L360.04,56.50 L360.09,56.00 L360.13,55.50 L360.18,55.00 L360.22,54.50 L360.27,54.00 L360.31,53.50 L360.36,53.00 L360.40,52.50 L360.45,52.00 Z" fill="#F2F7D0" stroke="#404040" stroke-width="1" stroke-linejoin="round"/>
<path d="M432.40,89.00 L432.42,89.50 L432.44,90.00 L432.46,90.51 L432.48,91.01 L432.50,91.51 L432.53,92.01 L432.56,92.51 L432.58,93.02 L432.61,93.52 L432.64,94.02 L432.67,94.52 L432.70,95.02 L432.73,95.53 L432.77,96.03 L432.80,96.53 L432.84,97.03 L432.87,97.53 L432.92,98.04 L432.96,98.54 L433.00,99.04 L433.05,99.54 L433.10,100.04 L433.16,100.55 L433.23,101.05 L433.30,101.55 L433.38,102.05 L433.46,102.55 L433.55,103.06 L433.64,103.56 L433.73,104.06 L433.82,104.56 L433.91,105.06 L434.00,105.57 L434.09,106.07 L434.18,106.57 L434.28,107.07 L434.38,107.57 L434.48,108.08 L434.58,108.58 L434.69,109.08 L434.80,109.58 L434.92,110.08 L435.05,110.59 L435.19,111.09 L435.33,111.59 L435.48,112.09 L435.64,112.59 L435.80,113.10 L435.96,113.60 L436.12,114.10 L436.28,114.60 L436.43,115.10 L436.57,115.60 L436.70,116.11 L436.83,116.61 L436.95,117.11 L437.08,117.61 L437.22,118.11 L437.37,118.62 L437.54,119.12 L437.73,119.62 L437.96,120.12 L438.25,120.62 L438.62,121.13 L439.05,121.63 L439.52,122.13 L440.02,122.63 L440.54,123.13 L441.12,123.64 L441.77,124.14 L442.46,124.64 L443.18,125.14 L443.90,125.64 L444.61,126.15 L445.34,126.65 L446.09,127.15 L446.84,127.65 L447.59,128.15 L448.32,128.66 L449.01,129.16 L449.67,129.66 L450.30,130.16 L450.91,130.66 L451.53,131.17 L452.17,131.67 L452.83,132.17 L453.52,132.67 L454.22,133.17 L454.94,133.68 L455.65,134.18 L456.36,134.68 L457.06,135.18 L457.89,135.68 L458.77,136.19 L459.62,136.69 L460.30,137.19 L460.72,137.69 L460.79,138.19 L460.73,138.70 L460.60,139.20 L460.42,139.70 L460.19,140.20 L459.69,140.70 L459.00,141.21 L458.23,141.71 L457.50,142.21 L456.72,142.71 L455.89,143.21 L455.02,143.72 L454.14,144.22 L453.27,144.72 L452.43,145.22 L451.57,145.72 L450.71,146.23 L449.85,146.73 L449.01,147.23 L448.21,147.73 L447.45,148.23 L446.71,148.74 L445.99,149.24 L445.28,149.74 L444.60,150.24 L443.94,150.74 L443.30,151.25 L442.69,151.75 L442.11,152.25 L441.53,152.75 L440.96,153.25 L440.40,153.76 L439.87,154.26 L439.38,154.76 L438.94,155.26 L438.56,155.76 L438.24,156.27 L437.97,156.77 L437.72,157.27 L437.50,157.77 L437.29,158.27 L437.09,158.78 L436.89,159.28 L436.69,159.78 L436.48,160.28 L436.27,160.78 L436.05,161.29 L435.84,161.79 L435.63,162.29 L435.43,162.79 L435.24,163.29 L435.07,163.80 L434.90,164.30 L434.75,164.80 L434.59,165.30 L434.45,165.80 L434.31,166.30 L434.18,166.81 L434.06,167.31 L433.94,167.81 L433.83,168.31 L433.73,168.81 L433.62,169.32 L433.53,169.82 L433.44,170.32 L433.35,170.82 L433.28,171.32 L433.22,171.83 L433.17,172.33 L433.12,172.83 L433.08,173.33 L433.04,173.83 L433.00,174.34 L432.97,174.84 L432.94,175.34 L432.91,175.84 L432.88,176.34 L432.85,176.85 L432.83,177.35 L432.81,177.85 L432.78,178.35 L432.76,178.85 L432.74,179.36 L432.72,179.86 L432.70,180.36 L432.67,180.86 L432.65,181.36 L432.63,181.87 L432.61,182.37 L432.59,182.87 L432.57,183.37 L432.56,183.87 L432.54,184.38 L432.52,184.88 L432.50,185.38 L432.49,185.88 L432.48,186.38 L432.46,186.89 L432.45,187.39 L432.44,187.89 L432.43,188.39 L432.42,188.89 L432.41,189.40 L432.41,189.90 L432.40,190.40 L432.40,190.40 L432.39,189.90 L432.39,189.40 L432.38,188.89 L432.37,188.39 L432.36,187.89 L432.35,187.39 L432.34,186.89 L432.32,186.38 L432.31,185.88 L432.30,185.38 L432.28,184.88 L432.26,184.38 L432.24,183.87 L432.23,183.37 L432.21,182.87 L432.19,182.37 L432.17,181.87 L432.15,181.36 L432.13,180.86 L432.10,180.36 L432.08,179.86 L432.06,179.36 L432.04,178.85 L432.02,178.35 L431.99,177.85 L431.97,177.35 L431.95,176.85 L431.92,176.34 L431.89,175.84 L431.86,175.34 L431.83,174.84 L431.80,174.34 L431.76,173.83 L431.72,173.33 L431.68,172.83 L431.63,172.33 L431.58,171.83 L431.52,171.32 L431.45,170.82 L431.36,170.32 L431.27,169.82 L431.18,169.32 L431.07,168.81 L430.97,168.31 L430.86,167.81 L430.74,167.31 L430.62,166.81 L430.49,166.30 L430.35,165.80 L430.21,165.30 L430.05,164.80 L429.90,164.30 L429.73,163.80 L429.56,163.29 L429.37,162.79 L429.17,162.29 L428.96,161.79 L428.75,161.29 L428.53,160.78 L428.32,160.28 L428.11,159.78 L427.91,159.28 L427.71,158.78 L427.51,158.27 L427.30,157.77 L427.08,157.27 L426.83,156.77 L426.56,156.27 L426.24,155.76 L425.86,155.26 L425.42,154.76 L424.93,154.26 L424.40,153.76 L423.84,153.25 L423.27,152.75 L422.69,152.25 L422.11,151.75 L421.50,151.25 L420.86,150.74 L420.20,150.24 L419.52,149.74 L418.81,149.24 L418.09,148.74 L417.35,148.23 L416.59,147.73 L415.79,147.23 L414.95,146.73 L414.09,146.23 L413.23,145.72 L412.37,145.22 L411.53,144.72 L410.66,144.22 L409.78,143.72 L408.91,143.21 L408.08,142.71 L407.30,142.21 L406.57,141.71 L405.80,141.21 L405.11,140.70 L404.61,140.20 L404.38,139.70 L404.20,139.20 L404.07,138.70 L404.01,138.19 L404.08,137.69 L404.50,137.19 L405.18,136.69 L406.03,136.19 L406.91,135.68 L407.74,135.18 L408.44,134.68 L409.15,134.18 L409.86,133.68 L410.58,133.17 L411.28,132.67 L411.97,132.17 L412.63,131.67 L413.27,131.17 L413.89,130.66 L414.50,130.16 L415.13,129.66 L415.79,129.16 L416.48,128.66 L417.21,128.15 L417.96,127.65 L418.71,127.15 L419.46,126.65 L420.19,126.15 L420.90,125.64 L421.62,125.14 L422.34,124.64 L423.03,124.14 L423.68,123.64 L424.26,123.13 L424.78,122.63 L425.28,122.13 L425.75,121.63 L426.18,121.13 L426.55,120.62 L426.84,120.12 L427.07,119.62 L427.26,119.12 L427.43,118.62 L427.58,118.11 L427.72,117.61 L427.85,117.11 L427.97,116.61 L428.10,116.11 L428.23,115.60 L428.37,115.10 L428.52,114.60 L428.68,114.10 L428.84,113.60 L429.00,113.10 L429.16,112.59 L429.32,112.09 L429.47,111.59 L429.61,111.09 L429.75,110.59 L429.88,110.08 L430.00,109.58 L430.11,109.08 L430.22,108.58 L430.32,108.08 L430.42,107.57 L430.52,107.07 L430.62,106.57 L430.71,106.07 L430.80,105.57 L430.89,105.06 L430.98,104.56 L431.07,104.06 L431.16,103.56 L431.25,103.06 L431.34,102.55 L431.42,102.05 L431.50,101.55 L431.57,101.05 L431.64,100.55 L431.70,100.04 L431.75,99.54 L431.80,99.04 L431.84,98.54 L431.88,98.04 L431.93,97.53 L431.96,97.03 L432.00,96.53 L432.03,96.03 L432.07,95.53 L432.10,95.02 L432.13,94.52 L432.16,94.02 L432.19,93.52 L432.22,93.02 L432.24,92.51 L432.27,92.01 L432.30,91.51 L432.32,91.01 L432.34,90.51 L432.36,90.00 L432.38,89.50 L432.40,89.00 Z" fill="#E0EACB" stroke="#404040" stroke-width="1" stroke-linejoin="round"/>
<path d="M504.45,79.50 L504.47,80.00 L504.48,80.50 L504.50,81.00 L504.51,81.50 L504.53,82.00 L504.54,82.50 L504.55,83.00 L504.57,83.50 L504.58,84.00 L504.60,84.50 L504.61,85.00 L504.63,85.50 L504.64,86.00 L504.65,86.50 L504.67,87.00 L504.68,87.50 L504.70,88.00 L504.71,88.50 L504.72,89.00 L504.74,89.50 L504.75,90.00 L504.76,90.50 L504.78,91.00 L504.79,91.50 L504.80,92.00 L504.81,92.50 L504.82,93.00 L504.84,93.50 L504.85,94.00 L504.86,94.50 L504.87,95.00 L504.88,95.50 L504.90,96.00 L504.91,96.50 L504.92,97.00 L504.94,97.50 L504.95,98.00 L504.96,98.50 L504.98,99.00 L504.99,99.50 L505.01,100.00 L505.02,100.50 L505.04,101.00 L505.06,101.50 L505.07,102.00 L505.09,102.50 L505.11,103.00 L505.13,103.50 L505.15,104.00 L505.17,104.50 L505.20,105.00 L505.22,105.50 L505.25,106.00 L505.28,106.50 L505.31,107.00 L505.34,107.50 L505.38,108.00 L505.41,108.50 L505.45,109.00 L505.49,109.50 L505.53,110.00 L505.57,110.50 L505.62,111.00 L505.67,111.50 L505.72,112.00 L505.77,112.50 L505.83,113.00 L505.89,113.50 L505.95,114.00 L506.02,114.50 L506.09,115.00 L506.16,115.50 L506.25,116.00 L506.34,116.50 L506.45,117.00 L506.57,117.50 L506.71,118.00 L506.87,118.50 L507.05,119.00 L507.24,119.50 L507.45,120.00 L507.68,120.50 L507.94,121.00 L508.22,121.50 L508.53,122.00 L508.87,122.50 L509.24,123.00 L509.63,123.50 L510.05,124.00 L510.53,124.50 L511.08,125.00 L511.69,125.50 L512.36,126.00 L513.06,126.50 L513.78,127.00 L514.52,127.50 L515.25,128.00 L516.01,128.50 L516.84,129.00 L517.70,129.50 L518.58,130.00 L519.46,130.50 L520.31,131.00 L521.11,131.50 L521.85,132.00 L522.51,132.50 L523.13,133.00 L523.70,133.50 L524.26,134.00 L524.82,134.50 L525.39,135.00 L526.00,135.50 L526.65,136.00 L527.41,136.50 L528.27,137.00 L529.16,137.50 L530.02,138.00 L530.77,138.50 L531.35,139.00 L531.83,139.50 L532.29,140.00 L532.68,140.50 L532.95,141.00 L533.05,141.50 L532.95,142.00 L532.69,142.50 L532.30,143.00 L531.84,143.50 L531.35,144.00 L530.74,144.50 L529.91,145.00 L528.95,145.50 L527.91,146.00 L526.85,146.50 L525.85,147.00 L524.86,147.50 L523.83,148.00 L522.78,148.50 L521.75,149.00 L520.76,149.50 L519.85,150.00 L519.00,150.50 L518.16,151.00 L517.36,151.50 L516.58,152.00 L515.83,152.50 L515.13,153.00 L514.47,153.50 L513.85,154.00 L513.27,154.50 L512.70,155.00 L512.16,155.50 L511.64,156.00 L511.16,156.50 L510.71,157.00 L510.31,157.50 L509.95,158.00 L509.63,158.50 L509.33,159.00 L509.05,159.50 L508.79,160.00 L508.55,160.50 L508.33,161.00 L508.13,161.50 L507.95,162.00 L507.79,162.50 L507.64,163.00 L507.50,163.50 L507.37,164.00 L507.26,164.50 L507.15,165.00 L507.04,165.50 L506.95,166.00 L506.86,166.50 L506.78,167.00 L506.70,167.50 L506.63,168.00 L506.56,168.50 L506.49,169.00 L506.43,169.50 L506.37,170.00 L506.31,170.50 L506.25,171.00 L506.19,171.50 L506.14,172.00 L506.09,172.50 L506.04,173.00 L505.99,173.50 L505.94,174.00 L505.89,174.50 L505.85,175.00 L505.80,175.50 L505.75,176.00 L505.70,176.50 L505.65,177.00 L505.60,177.50 L505.55,178.00 L505.50,178.50 L505.45,179.00 L505.40,179.50 L505.35,180.00 L505.30,180.50 L505.25,181.00 L505.20,181.50 L505.14,182.00 L505.09,182.50 L505.03,183.00 L504.98,183.50 L504.92,184.00 L504.86,184.50 L504.81,185.00 L504.75,185.50 L504.69,186.00 L504.63,186.50 L504.57,187.00 L504.51,187.50 L504.45,188.00 L504.45,188.00 L504.39,187.50 L504.33,187.00 L504.27,186.50 L504.21,186.00 L504.15,185.50 L504.09,185.00 L504.04,184.50 L503.98,184.00 L503.92,183.50 L503.87,183.00 L503.81,182.50 L503.76,182.00 L503.70,181.50 L503.65,181.00 L503.60,180.50 L503.55,180.00 L503.50,179.50 L503.45,179.00 L503.40,178.50 L503.35,178.00 L503.30,177.50 L503.25,177.00 L503.20,176.50 L503.15,176.00 L503.10,175.50 L503.05,175.00 L503.01,174.50 L502.96,174.00 L502.91,173.50 L502.86,173.00 L502.81,172.50 L502.76,172.00 L502.71,171.50 L502.65,171.00 L502.59,170.50 L502.53,170.00 L502.47,169.50 L502.41,169.00 L502.34,168.50 L502.27,168.00 L502.20,167.50 L502.12,167.00 L502.04,166.50 L501.95,166.00 L501.86,165.50 L501.75,165.00 L501.64,164.50 L501.53,164.00 L501.40,163.50 L501.26,163.00 L501.11,162.50 L500.95,162.00 L500.77,161.50 L500.57,161.00 L500.35,160.50 L500.11,160.00 L499.85,159.50 L499.57,159.00 L499.27,158.50 L498.95,158.00 L498.59,157.50 L498.19,157.00 L497.74,156.50 L497.26,156.00 L496.74,155.50 L496.20,155.00 L495.63,154.50 L495.05,154.00 L494.43,153.50 L493.77,153.00 L493.07,152.50 L492.32,152.00 L491.54,151.50 L490.74,151.00 L489.90,150.50 L489.05,150.00 L488.14,149.50 L487.15,149.00 L486.12,148.50 L485.07,148.00 L484.04,147.50 L483.05,147.00 L482.05,146.50 L480.99,146.00 L479.95,145.50 L478.99,145.00 L478.16,144.50 L477.55,144.00 L477.06,143.50 L476.60,143.00 L476.21,142.50 L475.95,142.00 L475.85,141.50 L475.95,141.00 L476.22,140.50 L476.61,140.00 L477.07,139.50 L477.55,139.00 L478.13,138.50 L478.88,138.00 L479.74,137.50 L480.63,137.00 L481.49,136.50 L482.25,136.00 L482.90,135.50 L483.51,135.00 L484.08,134.50 L484.64,134.00 L485.20,133.50 L485.77,133.00 L486.39,132.50 L487.05,132.00 L487.79,131.50 L488.59,131.00 L489.44,130.50 L490.32,130.00 L491.20,129.50 L492.06,129.00 L492.89,128.50 L493.65,128.00 L494.38,127.50 L495.12,127.00 L495.84,126.50 L496.54,126.00 L497.21,125.50 L497.82,125.00 L498.37,124.50 L498.85,124.00 L499.27,123.50 L499.66,123.00 L500.03,122.50 L500.37,122.00 L500.68,121.50 L500.96,121.00 L501.22,120.50 L501.45,120.00 L501.66,119.50 L501.85,119.00 L502.03,118.50 L502.19,118.00 L502.33,117.50 L502.45,117.00 L502.56,116.50 L502.65,116.00 L502.74,115.50 L502.81,115.00 L502.88,114.50 L502.95,114.00 L503.01,113.50 L503.07,113.00 L503.13,112.50 L503.18,112.00 L503.23,111.50 L503.28,111.00 L503.33,110.50 L503.37,110.00 L503.41,109.50 L503.45,109.00 L503.49,108.50 L503.52,108.00 L503.56,107.50 L503.59,107.00 L503.62,106.50 L503.65,106.00 L503.68,105.50 L503.70,105.00 L503.73,104.50 L503.75,104.00 L503.77,103.50 L503.79,103.00 L503.81,102.50 L503.83,102.00 L503.84,101.50 L503.86,101.00 L503.88,100.50 L503.89,100.00 L503.91,99.50 L503.92,99.00 L503.94,98.50 L503.95,98.00 L503.96,97.50 L503.98,97.00 L503.99,96.50 L504.00,96.00 L504.02,95.50 L504.03,95.00 L504.04,94.50 L504.05,94.00 L504.06,93.50 L504.08,93.00 L504.09,92.50 L504.10,92.00 L504.11,91.50 L504.12,91.00 L504.14,90.50 L504.15,90.00 L504.16,89.50 L504.18,89.00 L504.19,88.50 L504.20,88.00 L504.22,87.50 L504.23,87.00 L504.25,86.50 L504.26,86.00 L504.27,85.50 L504.29,85.00 L504.30,84.50 L504.32,84.00 L504.33,83.50 L504.35,83.00 L504.36,82.50 L504.37,82.00 L504.39,81.50 L504.40,81.00 L504.42,80.50 L504.43,80.00 L504.45,79.50 Z" fill="#CDEBB8" stroke="#404040" stroke-width="1" stroke-linejoin="round"/>
<path d="M576.40,99.20 L576.42,99.70 L576.44,100.20 L576.46,100.70 L576.48,101.20 L576.50,101.70 L576.52,102.20 L576.53,102.70 L576.55,103.20 L576.56,103.71 L576.58,104.21 L576.59,104.71 L576.61,105.21 L576.62,105.71 L576.63,106.21 L576.63,106.71 L576.64,107.21 L576.65,107.71 L576.66,108.21 L576.67,108.71 L576.68,109.21 L576.69,109.71 L576.71,110.21 L576.73,110.71 L576.76,111.21 L576.80,111.71 L576.85,112.22 L576.89,112.72 L576.94,113.22 L576.99,113.72 L577.03,114.22 L577.08,114.72 L577.12,115.22 L577.16,115.72 L577.21,116.22 L577.26,116.72 L577.31,117.22 L577.35,117.72 L577.38,118.22 L577.40,118.72 L577.40,119.22 L577.38,119.72 L577.36,120.22 L577.32,120.73 L577.28,121.23 L577.25,121.73 L577.22,122.23 L577.20,122.73 L577.20,123.23 L577.21,123.73 L577.22,124.23 L577.24,124.73 L577.26,125.23 L577.29,125.73 L577.33,126.23 L577.37,126.73 L577.44,127.23 L577.62,127.73 L577.92,128.23 L578.31,128.73 L578.75,129.24 L579.28,129.74 L580.07,130.24 L581.02,130.74 L582.06,131.24 L583.15,131.74 L584.42,132.24 L585.78,132.74 L587.17,133.24 L588.50,133.74 L589.73,134.24 L590.93,134.74 L592.10,135.24 L593.25,135.74 L594.37,136.24 L595.47,136.74 L596.54,137.24 L597.63,137.75 L598.70,138.25 L599.73,138.75 L600.69,139.25 L601.56,139.75 L602.37,140.25 L603.23,140.75 L604.03,141.25 L604.66,141.75 L604.98,142.25 L604.91,142.75 L604.52,143.25 L603.92,143.75 L603.21,144.25 L602.46,144.75 L601.51,145.25 L600.33,145.76 L598.99,146.26 L597.56,146.76 L596.12,147.26 L594.73,147.76 L593.44,148.26 L592.10,148.76 L590.76,149.26 L589.45,149.76 L588.24,150.26 L587.17,150.76 L586.15,151.26 L585.18,151.76 L584.29,152.26 L583.50,152.76 L582.84,153.26 L582.28,153.76 L581.75,154.27 L581.25,154.77 L580.80,155.27 L580.39,155.77 L580.04,156.27 L579.74,156.77 L579.51,157.27 L579.33,157.77 L579.16,158.27 L579.00,158.77 L578.86,159.27 L578.73,159.77 L578.62,160.27 L578.51,160.77 L578.42,161.27 L578.33,161.77 L578.25,162.27 L578.17,162.78 L578.10,163.28 L578.04,163.78 L577.97,164.28 L577.91,164.78 L577.86,165.28 L577.80,165.78 L577.75,166.28 L577.71,166.78 L577.66,167.28 L577.62,167.78 L577.57,168.28 L577.53,168.78 L577.49,169.28 L577.46,169.78 L577.42,170.28 L577.39,170.78 L577.36,171.29 L577.33,171.79 L577.30,172.29 L577.27,172.79 L577.24,173.29 L577.21,173.79 L577.18,174.29 L577.16,174.79 L577.13,175.29 L577.10,175.79 L577.06,176.29 L577.03,176.79 L576.99,177.29 L576.95,177.79 L576.92,178.29 L576.87,178.79 L576.83,179.29 L576.79,179.80 L576.74,180.30 L576.70,180.80 L576.65,181.30 L576.60,181.80 L576.55,182.30 L576.50,182.80 L576.45,183.30 L576.40,183.80 L576.40,183.80 L576.35,183.30 L576.30,182.80 L576.25,182.30 L576.20,181.80 L576.15,181.30 L576.10,180.80 L576.06,180.30 L576.01,179.80 L575.97,179.29 L575.93,178.79 L575.88,178.29 L575.85,177.79 L575.81,177.29 L575.77,176.79 L575.74,176.29 L575.70,175.79 L575.67,175.29 L575.64,174.79 L575.62,174.29 L575.59,173.79 L575.56,173.29 L575.53,172.79 L575.50,172.29 L575.47,171.79 L575.44,171.29 L575.41,170.78 L575.38,170.28 L575.34,169.78 L575.31,169.28 L575.27,168.78 L575.23,168.28 L575.18,167.78 L575.14,167.28 L575.09,166.78 L575.05,166.28 L575.00,165.78 L574.94,165.28 L574.89,164.78 L574.83,164.28 L574.76,163.78 L574.70,163.28 L574.63,162.78 L574.55,162.27 L574.47,161.77 L574.38,161.27 L574.29,160.77 L574.18,160.27 L574.07,159.77 L573.94,159.27 L573.80,158.77 L573.64,158.27 L573.47,157.77 L573.29,157.27 L573.06,156.77 L572.76,156.27 L572.41,155.77 L572.00,155.27 L571.55,154.77 L571.05,154.27 L570.52,153.76 L569.96,153.26 L569.30,152.76 L568.51,152.26 L567.62,151.76 L566.65,151.26 L565.63,150.76 L564.56,150.26 L563.35,149.76 L562.04,149.26 L560.70,148.76 L559.36,148.26 L558.07,147.76 L556.68,147.26 L555.24,146.76 L553.81,146.26 L552.47,145.76 L551.29,145.25 L550.34,144.75 L549.59,144.25 L548.88,143.75 L548.28,143.25 L547.89,142.75 L547.82,142.25 L548.14,141.75 L548.77,141.25 L549.57,140.75 L550.43,140.25 L551.24,139.75 L552.11,139.25 L553.07,138.75 L554.10,138.25 L555.17,137.75 L556.26,137.24 L557.33,136.74 L558.43,136.24 L559.55,135.74 L560.70,135.24 L561.87,134.74 L563.07,134.24 L564.30,133.74 L565.63,133.24 L567.02,132.74 L568.38,132.24 L569.65,131.74 L570.74,131.24 L571.78,130.74 L572.73,130.24 L573.52,129.74 L574.05,129.24 L574.49,128.73 L574.88,128.23 L575.18,127.73 L575.36,127.23 L575.43,126.73 L575.47,126.23 L575.51,125.73 L575.54,125.23 L575.56,124.73 L575.58,124.23 L575.59,123.73 L575.60,123.23 L575.60,122.73 L575.58,122.23 L575.55,121.73 L575.52,121.23 L575.48,120.73 L575.44,120.22 L575.42,119.72 L575.40,119.22 L575.40,118.72 L575.42,118.22 L575.45,117.72 L575.49,117.22 L575.54,116.72 L575.59,116.22 L575.64,115.72 L575.68,115.22 L575.72,114.72 L575.77,114.22 L575.81,113.72 L575.86,113.22 L575.91,112.72 L575.95,112.22 L576.00,111.71 L576.04,111.21 L576.07,110.71 L576.09,110.21 L576.11,109.71 L576.12,109.21 L576.13,108.71 L576.14,108.21 L576.15,107.71 L576.16,107.21 L576.17,106.71 L576.17,106.21 L576.18,105.71 L576.19,105.21 L576.21,104.71 L576.22,104.21 L576.24,103.71 L576.25,103.20 L576.27,102.70 L576.28,102.20 L576.30,101.70 L576.32,101.20 L576.34,100.70 L576.36,100.20 L576.38,99.70 L576.40,99.20 Z" fill="#C2FBC2" stroke="#404040" stroke-width="1" stroke-linejoin="round"/>
<path d="M648.30,59.00 L648.32,59.50 L648.33,60.00 L648.35,60.50 L648.37,61.00 L648.39,61.50 L648.40,62.00 L648.43,62.51 L648.45,63.01 L648.47,63.51 L648.49,64.01 L648.51,64.51 L648.54,65.01 L648.56,65.51 L648.59,66.01 L648.61,66.51 L648.64,67.01 L648.66,67.51 L648.69,68.01 L648.72,68.51 L648.74,69.01 L648.77,69.52 L648.80,70.02 L648.83,70.52 L648.86,71.02 L648.90,71.52 L648.93,72.02 L648.97,72.52 L649.00,73.02 L649.04,73.52 L649.08,74.02 L649.12,74.52 L649.16,75.02 L649.19,75.52 L649.23,76.02 L649.27,76.53 L649.30,77.03 L649.34,77.53 L649.37,78.03 L649.40,78.53 L649.43,79.03 L649.46,79.53 L649.49,80.03 L649.52,80.53 L649.55,81.03 L649.57,81.53 L649.60,82.03 L649.64,82.53 L649.67,83.03 L649.70,83.54 L649.74,84.04 L649.78,84.54 L649.82,85.04 L649.86,85.54 L649.90,86.04 L649.95,86.54 L650.01,87.04 L650.07,87.54 L650.14,88.04 L650.21,88.54 L650.29,89.04 L650.36,89.54 L650.44,90.04 L650.53,90.55 L650.61,91.05 L650.69,91.55 L650.78,92.05 L650.88,92.55 L650.98,93.05 L651.08,93.55 L651.18,94.05 L651.29,94.55 L651.39,95.05 L651.50,95.55 L651.61,96.05 L651.73,96.55 L651.87,97.06 L652.01,97.56 L652.16,98.06 L652.31,98.56 L652.45,99.06 L652.57,99.56 L652.68,100.06 L652.76,100.56 L652.80,101.06 L652.83,101.56 L652.86,102.06 L652.87,102.56 L652.89,103.06 L652.90,103.56 L652.91,104.07 L652.93,104.57 L652.95,105.07 L652.97,105.57 L653.01,106.07 L653.07,106.57 L653.16,107.07 L653.29,107.57 L653.43,108.07 L653.60,108.57 L653.77,109.07 L653.95,109.57 L654.13,110.07 L654.32,110.57 L654.52,111.08 L654.75,111.58 L654.99,112.08 L655.25,112.58 L655.51,113.08 L655.79,113.58 L656.07,114.08 L656.36,114.58 L656.65,115.08 L656.95,115.58 L657.25,116.08 L657.57,116.58 L657.90,117.08 L658.24,117.58 L658.59,118.09 L658.94,118.59 L659.31,119.09 L659.68,119.59 L660.05,120.09 L660.42,120.59 L660.79,121.09 L661.17,121.59 L661.56,122.09 L661.95,122.59 L662.35,123.09 L662.76,123.59 L663.17,124.09 L663.58,124.59 L663.99,125.10 L664.39,125.60 L664.80,126.10 L665.20,126.60 L665.60,127.10 L666.00,127.60 L666.40,128.10 L666.80,128.60 L667.20,129.10 L667.59,129.60 L667.99,130.10 L668.38,130.60 L668.77,131.10 L669.15,131.61 L669.53,132.11 L669.90,132.61 L670.28,133.11 L670.66,133.61 L671.03,134.11 L671.41,134.61 L671.77,135.11 L672.13,135.61 L672.48,136.11 L672.82,136.61 L673.14,137.11 L673.45,137.61 L673.75,138.11 L674.05,138.62 L674.35,139.12 L674.64,139.62 L674.93,140.12 L675.20,140.62 L675.46,141.12 L675.70,141.62 L675.92,142.12 L676.11,142.62 L676.28,143.12 L676.42,143.62 L676.56,144.12 L676.70,144.62 L676.84,145.12 L676.96,145.63 L677.08,146.13 L677.18,146.63 L677.26,147.13 L677.33,147.63 L677.38,148.13 L677.40,148.63 L677.39,149.13 L677.35,149.63 L677.28,150.13 L677.20,150.63 L677.11,151.13 L677.02,151.63 L676.90,152.13 L676.77,152.64 L676.62,153.14 L676.44,153.64 L676.24,154.14 L675.99,154.64 L675.69,155.14 L675.34,155.64 L674.95,156.14 L674.53,156.64 L674.10,157.14 L673.66,157.64 L673.22,158.14 L672.79,158.64 L672.33,159.14 L671.85,159.65 L671.35,160.15 L670.83,160.65 L670.31,161.15 L669.79,161.65 L669.27,162.15 L668.75,162.65 L668.25,163.15 L667.74,163.65 L667.23,164.15 L666.72,164.65 L666.21,165.15 L665.71,165.65 L665.21,166.16 L664.72,166.66 L664.24,167.16 L663.76,167.66 L663.29,168.16 L662.81,168.66 L662.34,169.16 L661.88,169.66 L661.43,170.16 L661.01,170.66 L660.60,171.16 L660.23,171.66 L659.88,172.16 L659.54,172.66 L659.23,173.17 L658.92,173.67 L658.63,174.17 L658.35,174.67 L658.07,175.17 L657.79,175.67 L657.52,176.17 L657.24,176.67 L656.96,177.17 L656.68,177.67 L656.40,178.17 L656.13,178.67 L655.87,179.17 L655.61,179.67 L655.36,180.18 L655.13,180.68 L654.91,181.18 L654.71,181.68 L654.52,182.18 L654.34,182.68 L654.17,183.18 L654.00,183.68 L653.84,184.18 L653.69,184.68 L653.54,185.18 L653.40,185.68 L653.26,186.18 L653.13,186.68 L653.00,187.19 L652.88,187.69 L652.77,188.19 L652.66,188.69 L652.56,189.19 L652.46,189.69 L652.36,190.19 L652.27,190.69 L652.17,191.19 L652.08,191.69 L651.99,192.19 L651.91,192.69 L651.85,193.19 L651.78,193.69 L651.72,194.20 L651.66,194.70 L651.60,195.20 L651.55,195.70 L651.49,196.20 L651.44,196.70 L651.39,197.20 L651.34,197.70 L651.29,198.20 L651.25,198.70 L651.20,199.20 L651.15,199.70 L651.11,200.20 L651.06,200.71 L651.02,201.21 L650.97,201.71 L650.93,202.21 L650.88,202.71 L650.84,203.21 L650.79,203.71 L650.75,204.21 L650.70,204.71 L650.66,205.21 L650.62,205.71 L650.57,206.21 L650.53,206.71 L650.49,207.21 L650.45,207.72 L650.41,208.22 L650.37,208.72 L650.34,209.22 L650.30,209.72 L650.26,210.22 L650.23,210.72 L650.20,211.22 L650.16,211.72 L650.13,212.22 L650.10,212.72 L650.08,213.22 L650.05,213.72 L650.02,214.22 L650.00,214.73 L649.97,215.23 L649.95,215.73 L649.93,216.23 L649.90,216.73 L649.88,217.23 L649.86,217.73 L649.84,218.23 L649.82,218.73 L649.79,219.23 L649.77,219.73 L649.75,220.23 L649.73,220.73 L649.71,221.23 L649.70,221.74 L649.68,222.24 L649.66,222.74 L649.64,223.24 L649.62,223.74 L649.60,224.24 L649.58,224.74 L649.56,225.24 L649.54,225.74 L649.52,226.24 L649.50,226.74 L649.48,227.24 L649.47,227.74 L649.45,228.24 L649.43,228.75 L649.41,229.25 L649.39,229.75 L649.38,230.25 L649.36,230.75 L649.34,231.25 L649.32,231.75 L649.31,232.25 L649.29,232.75 L649.27,233.25 L649.26,233.75 L649.24,234.25 L649.23,234.75 L649.21,235.26 L649.20,235.76 L649.18,236.26 L649.17,236.76 L649.15,237.26 L649.14,237.76 L649.12,238.26 L649.11,238.76 L649.10,239.26 L649.08,239.76 L649.07,240.26 L649.06,240.76 L649.05,241.26 L649.03,241.76 L649.02,242.27 L649.01,242.77 L649.00,243.27 L648.98,243.77 L648.97,244.27 L648.96,244.77 L648.94,245.27 L648.93,245.77 L648.92,246.27 L648.91,246.77 L648.89,247.27 L648.88,247.77 L648.87,248.27 L648.85,248.77 L648.84,249.28 L648.83,249.78 L648.82,250.28 L648.80,250.78 L648.79,251.28 L648.78,251.78 L648.77,252.28 L648.75,252.78 L648.74,253.28 L648.73,253.78 L648.71,254.28 L648.70,254.78 L648.69,255.28 L648.67,255.78 L648.66,256.29 L648.65,256.79 L648.63,257.29 L648.62,257.79 L648.60,258.29 L648.58,258.79 L648.57,259.29 L648.55,259.79 L648.53,260.29 L648.52,260.79 L648.50,261.29 L648.48,261.79 L648.46,262.29 L648.44,262.79 L648.42,263.30 L648.40,263.80 L648.38,264.30 L648.36,264.80 L648.34,265.30 L648.32,265.80 L648.30,266.30 L648.30,266.30 L648.28,265.80 L648.26,265.30 L648.24,264.80 L648.22,264.30 L648.20,263.80 L648.18,263.30 L648.16,262.79 L648.14,262.29 L648.12,261.79 L648.10,261.29 L648.08,260.79 L648.07,260.29 L648.05,259.79 L648.03,259.29 L648.02,258.79 L648.00,258.29 L647.98,257.79 L647.97,257.29 L647.95,256.79 L647.94,256.29 L647.93,255.78 L647.91,255.28 L647.90,254.78 L647.89,254.28 L647.87,253.78 L647.86,253.28 L647.85,252.78 L647.83,252.28 L647.82,251.78 L647.81,251.28 L647.80,250.78 L647.78,250.28 L647.77,249.78 L647.76,249.28 L647.75,248.77 L647.73,248.27 L647.72,247.77 L647.71,247.27 L647.69,246.77 L647.68,246.27 L647.67,245.77 L647.66,245.27 L647.64,244.77 L647.63,244.27 L647.62,243.77 L647.60,243.27 L647.59,242.77 L647.58,242.27 L647.57,241.76 L647.55,241.26 L647.54,240.76 L647.53,240.26 L647.52,239.76 L647.50,239.26 L647.49,238.76 L647.48,238.26 L647.46,237.76 L647.45,237.26 L647.43,236.76 L647.42,236.26 L647.40,235.76 L647.39,235.26 L647.37,234.75 L647.36,234.25 L647.34,233.75 L647.33,233.25 L647.31,232.75 L647.29,232.25 L647.28,231.75 L647.26,231.25 L647.24,230.75 L647.22,230.25 L647.21,229.75 L647.19,229.25 L647.17,228.75 L647.15,228.24 L647.13,227.74 L647.12,227.24 L647.10,226.74 L647.08,226.24 L647.06,225.74 L647.04,225.24 L647.02,224.74 L647.00,224.24 L646.98,223.74 L646.96,223.24 L646.94,222.74 L646.92,222.24 L646.90,221.74 L646.89,221.23 L646.87,220.73 L646.85,220.23 L646.83,219.73 L646.81,219.23 L646.78,218.73 L646.76,218.23 L646.74,217.73 L646.72,217.23 L646.70,216.73 L646.67,216.23 L646.65,215.73 L646.63,215.23 L646.60,214.73 L646.58,214.22 L646.55,213.72 L646.52,213.22 L646.50,212.72 L646.47,212.22 L646.44,211.72 L646.40,211.22 L646.37,210.72 L646.34,210.22 L646.30,209.72 L646.26,209.22 L646.23,208.72 L646.19,208.22 L646.15,207.72 L646.11,207.21 L646.07,206.71 L646.03,206.21 L645.98,205.71 L645.94,205.21 L645.90,204.71 L645.85,204.21 L645.81,203.71 L645.76,203.21 L645.72,202.71 L645.67,202.21 L645.63,201.71 L645.58,201.21 L645.54,200.71 L645.49,200.20 L645.45,199.70 L645.40,199.20 L645.35,198.70 L645.31,198.20 L645.26,197.70 L645.21,197.20 L645.16,196.70 L645.11,196.20 L645.05,195.70 L645.00,195.20 L644.94,194.70 L644.88,194.20 L644.82,193.69 L644.75,193.19 L644.69,192.69 L644.61,192.19 L644.52,191.69 L644.43,191.19 L644.33,190.69 L644.24,190.19 L644.14,189.69 L644.04,189.19 L643.94,188.69 L643.83,188.19 L643.72,187.69 L643.60,187.19 L643.47,186.68 L643.34,186.18 L643.20,185.68 L643.06,185.18 L642.91,184.68 L642.76,184.18 L642.60,183.68 L642.43,183.18 L642.26,182.68 L642.08,182.18 L641.89,181.68 L641.69,181.18 L641.47,180.68 L641.24,180.18 L640.99,179.67 L640.73,179.17 L640.47,178.67 L640.20,178.17 L639.92,177.67 L639.64,177.17 L639.36,176.67 L639.08,176.17 L638.81,175.67 L638.53,175.17 L638.25,174.67 L637.97,174.17 L637.68,173.67 L637.37,173.17 L637.06,172.66 L636.72,172.16 L636.37,171.66 L636.00,171.16 L635.59,170.66 L635.17,170.16 L634.72,169.66 L634.26,169.16 L633.79,168.66 L633.31,168.16 L632.84,167.66 L632.36,167.16 L631.88,166.66 L631.39,166.16 L630.89,165.65 L630.39,165.15 L629.88,164.65 L629.37,164.15 L628.86,163.65 L628.35,163.15 L627.85,162.65 L627.33,162.15 L626.81,161.65 L626.29,161.15 L625.77,160.65 L625.25,160.15 L624.75,159.65 L624.27,159.14 L623.81,158.64 L623.38,158.14 L622.94,157.64 L622.50,157.14 L622.07,156.64 L621.65,156.14 L621.26,155.64 L620.91,155.14 L620.61,154.64 L620.36,154.14 L620.16,153.64 L619.98,153.14 L619.83,152.64 L619.70,152.13 L619.58,151.63 L619.49,151.13 L619.40,150.63 L619.32,150.13 L619.25,149.63 L619.21,149.13 L619.20,148.63 L619.22,148.13 L619.27,147.63 L619.34,147.13 L619.42,146.63 L619.52,146.13 L619.64,145.63 L619.76,145.12 L619.90,144.62 L620.04,144.12 L620.18,143.62 L620.32,143.12 L620.49,142.62 L620.68,142.12 L620.90,141.62 L621.14,141.12 L621.40,140.62 L621.67,140.12 L621.96,139.62 L622.25,139.12 L622.55,138.62 L622.85,138.11 L623.15,137.61 L623.46,137.11 L623.78,136.61 L624.12,136.11 L624.47,135.61 L624.83,135.11 L625.19,134.61 L625.57,134.11 L625.94,133.61 L626.32,133.11 L626.70,132.61 L627.07,132.11 L627.45,131.61 L627.83,131.10 L628.22,130.60 L628.61,130.10 L629.01,129.60 L629.40,129.10 L629.80,128.60 L630.20,128.10 L630.60,127.60 L631.00,127.10 L631.40,126.60 L631.80,126.10 L632.21,125.60 L632.61,125.10 L633.02,124.59 L633.43,124.09 L633.84,123.59 L634.25,123.09 L634.65,122.59 L635.04,122.09 L635.43,121.59 L635.81,121.09 L636.18,120.59 L636.55,120.09 L636.92,119.59 L637.29,119.09 L637.66,118.59 L638.01,118.09 L638.36,117.58 L638.70,117.08 L639.03,116.58 L639.35,116.08 L639.65,115.58 L639.95,115.08 L640.24,114.58 L640.53,114.08 L640.81,113.58 L641.09,113.08 L641.35,112.58 L641.61,112.08 L641.85,111.58 L642.08,111.08 L642.28,110.57 L642.47,110.07 L642.65,109.57 L642.83,109.07 L643.00,108.57 L643.17,108.07 L643.31,107.57 L643.44,107.07 L643.53,106.57 L643.59,106.07 L643.63,105.57 L643.65,105.07 L643.67,104.57 L643.69,104.07 L643.70,103.56 L643.71,103.06 L643.73,102.56 L643.74,102.06 L643.77,101.56 L643.80,101.06 L643.84,100.56 L643.92,100.06 L644.03,99.56 L644.15,99.06 L644.29,98.56 L644.44,98.06 L644.59,97.56 L644.73,97.06 L644.87,96.55 L644.99,96.05 L645.10,95.55 L645.21,95.05 L645.31,94.55 L645.42,94.05 L645.52,93.55 L645.62,93.05 L645.72,92.55 L645.82,92.05 L645.91,91.55 L645.99,91.05 L646.07,90.55 L646.16,90.04 L646.24,89.54 L646.31,89.04 L646.39,88.54 L646.46,88.04 L646.53,87.54 L646.59,87.04 L646.65,86.54 L646.70,86.04 L646.74,85.54 L646.78,85.04 L646.82,84.54 L646.86,84.04 L646.90,83.54 L646.93,83.03 L646.96,82.53 L647.00,82.03 L647.03,81.53 L647.05,81.03 L647.08,80.53 L647.11,80.03 L647.14,79.53 L647.17,79.03 L647.20,78.53 L647.23,78.03 L647.26,77.53 L647.30,77.03 L647.33,76.53 L647.37,76.02 L647.41,75.52 L647.44,75.02 L647.48,74.52 L647.52,74.02 L647.56,73.52 L647.60,73.02 L647.63,72.52 L647.67,72.02 L647.70,71.52 L647.74,71.02 L647.77,70.52 L647.80,70.02 L647.83,69.52 L647.86,69.01 L647.88,68.51 L647.91,68.01 L647.94,67.51 L647.96,67.01 L647.99,66.51 L648.01,66.01 L648.04,65.51 L648.06,65.01 L648.09,64.51 L648.11,64.01 L648.13,63.51 L648.15,63.01 L648.17,62.51 L648.20,62.00 L648.21,61.50 L648.23,61.00 L648.25,60.50 L648.27,60.00 L648.28,59.50 L648.30,59.00 Z" fill="#FEE5C5" stroke="#404040" stroke-width="1" stroke-linejoin="round"/>
<line x1="72.55" y1="117.0" x2="72.55" y2="158.0" stroke="#404040" stroke-width="1"/>
<rect x="69.80" y="139.20" width="5.5" height="6.40" fill="#6A4008" stroke="#404040" stroke-width="1"/>
<circle cx="72.55" cy="142.0" r="1.75" fill="#fff"/>
<text x="76.35" y="146.70" font-size="14" textLength="22.2" lengthAdjust="spacingAndGlyphs">0.38</text>
<line x1="144.55" y1="102.6" x2="144.55" y2="183.8" stroke="#404040" stroke-width="1"/>
<rect x="141.80" y="132.00" width="5.5" height="18.50" fill="#B85A08" stroke="#404040" stroke-width="1"/>
<circle cx="144.55" cy="141.3" r="1.75" fill="#fff"/>
<text x="148.35" y="146.00" font-size="14" textLength="22.2" lengthAdjust="spacingAndGlyphs">0.50</text>
<line x1="216.5" y1="89.0" x2="216.5" y2="192.0" stroke="#404040" stroke-width="1"/>
<rect x="213.75" y="127.50" width="5.5" height="25.80" fill="#E8820E" stroke="#404040" stroke-width="1"/>
<circle cx="216.5" cy="140.6" r="1.75" fill="#fff"/>
<text x="220.30" y="145.30" font-size="14" textLength="22.2" lengthAdjust="spacingAndGlyphs">0.68</text>
<line x1="288.45" y1="109.4" x2="288.45" y2="175.0" stroke="#404040" stroke-width="1"/>
<rect x="285.70" y="134.50" width="5.5" height="15.90" fill="#F8B830" stroke="#404040" stroke-width="1"/>
<circle cx="288.45" cy="143.2" r="1.75" fill="#fff"/>
<text x="292.25" y="147.90" font-size="14" textLength="22.2" lengthAdjust="spacingAndGlyphs">0.06</text>
<line x1="360.45" y1="88.3" x2="360.45" y2="193.0" stroke="#404040" stroke-width="1"/>
<rect x="357.70" y="128.50" width="5.5" height="25.90" fill="#E8D455" stroke="#404040" stroke-width="1"/>
<circle cx="360.45" cy="141.4" r="1.75" fill="#fff"/>
<text x="364.25" y="146.10" font-size="14" textLength="22.2" lengthAdjust="spacingAndGlyphs">0.45</text>
<line x1="432.4" y1="111.0" x2="432.4" y2="168.0" stroke="#404040" stroke-width="1"/>
<rect x="429.65" y="132.00" width="5.5" height="14.20" fill="#B4D650" stroke="#404040" stroke-width="1"/>
<circle cx="432.4" cy="139.0" r="1.75" fill="#fff"/>
<text x="436.20" y="143.70" font-size="14" textLength="22.2" lengthAdjust="spacingAndGlyphs">1.07</text>
<line x1="504.45" y1="117.0" x2="504.45" y2="165.0" stroke="#404040" stroke-width="1"/>
<rect x="501.70" y="136.00" width="5.5" height="11.20" fill="#7CB43C" stroke="#404040" stroke-width="1"/>
<circle cx="504.45" cy="141.1" r="1.75" fill="#fff"/>
<text x="508.25" y="145.80" font-size="14" textLength="22.2" lengthAdjust="spacingAndGlyphs">0.57</text>
<line x1="576.4" y1="127.5" x2="576.4" y2="160.0" stroke="#404040" stroke-width="1"/>
<rect x="573.65" y="139.40" width="5.5" height="8.90" fill="#3A8C28" stroke="#404040" stroke-width="1"/>
<circle cx="576.4" cy="144.1" r="1.75" fill="#fff"/>
<text x="580.20" y="148.80" font-size="14" textLength="27.0" lengthAdjust="spacingAndGlyphs">-0.12</text>
<line x1="648.3" y1="92.0" x2="648.3" y2="207.0" stroke="#404040" stroke-width="1"/>
<rect x="645.55" y="134.10" width="5.5" height="29.30" fill="#0A5C0A" stroke="#404040" stroke-width="1"/>
<circle cx="648.3" cy="150.9" r="1.75" fill="#fff"/>
<text x="652.10" y="155.60" font-size="14" textLength="27.0" lengthAdjust="spacingAndGlyphs">-1.52</text>
<path d="M36.5,281 L36.5,6.5 L684.5,6.5 L684.5,281" fill="none" stroke="#404040" stroke-width="1"/>
<line x1="36" y1="281" x2="685" y2="281" stroke="#404040" stroke-width="1"/>
<line x1="36.5" y1="258.12" x2="40.5" y2="258.12" stroke="#404040" stroke-width="1"/>
<line x1="36.5" y1="235.25" x2="43.9" y2="235.25" stroke="#404040" stroke-width="1"/>
<line x1="36.5" y1="212.38" x2="40.5" y2="212.38" stroke="#404040" stroke-width="1"/>
<line x1="36.5" y1="189.50" x2="43.9" y2="189.50" stroke="#404040" stroke-width="1"/>
<line x1="36.5" y1="166.62" x2="40.5" y2="166.62" stroke="#404040" stroke-width="1"/>
<line x1="36.5" y1="143.75" x2="43.9" y2="143.75" stroke="#404040" stroke-width="1"/>
<line x1="36.5" y1="120.88" x2="40.5" y2="120.88" stroke="#404040" stroke-width="1"/>
<line x1="36.5" y1="98.00" x2="43.9" y2="98.00" stroke="#404040" stroke-width="1"/>
<line x1="36.5" y1="75.12" x2="40.5" y2="75.12" stroke="#404040" stroke-width="1"/>
<line x1="36.5" y1="52.25" x2="43.9" y2="52.25" stroke="#404040" stroke-width="1"/>
<line x1="36.5" y1="29.38" x2="40.5" y2="29.38" stroke="#404040" stroke-width="1"/>
<text x="28.5" text-anchor="end" y="285.60" font-size="14">-30</text>
<text x="28.5" text-anchor="end" y="239.85" font-size="14">-20</text>
<text x="28.5" text-anchor="end" y="194.10" font-size="14">-10</text>
<text x="28.5" text-anchor="end" y="148.35" font-size="14">0</text>
<text x="28.5" text-anchor="end" y="102.60" font-size="14">10</text>
<text x="28.5" text-anchor="end" y="56.85" font-size="14">20</text>
<text x="28.5" text-anchor="end" y="11.10" font-size="14">30</text>
<line x1="72.5" y1="281" x2="72.5" y2="273.3" stroke="#404040" stroke-width="1"/>
<line x1="144.5" y1="281" x2="144.5" y2="273.3" stroke="#404040" stroke-width="1"/>
<line x1="216.5" y1="281" x2="216.5" y2="273.3" stroke="#404040" stroke-width="1"/>
<line x1="288.5" y1="281" x2="288.5" y2="273.3" stroke="#404040" stroke-width="1"/>
<line x1="360.5" y1="281" x2="360.5" y2="273.3" stroke="#404040" stroke-width="1"/>
<line x1="432.5" y1="281" x2="432.5" y2="273.3" stroke="#404040" stroke-width="1"/>
<line x1="504.5" y1="281" x2="504.5" y2="273.3" stroke="#404040" stroke-width="1"/>
<line x1="576.5" y1="281" x2="576.5" y2="273.3" stroke="#404040" stroke-width="1"/>
<line x1="648.5" y1="281" x2="648.5" y2="273.3" stroke="#404040" stroke-width="1"/>
<line x1="397.5" y1="9" x2="397.5" y2="285" stroke="#404040" stroke-width="1" stroke-dasharray="3.44,2.1"/>
<text x="50" y="30.8" font-size="16.3">(a) Improvement of vegetation coverage</text>
<text x="405.6" y="30.8" font-size="16.3">(b) Deterioration of vegetation coverage</text>
<text transform="translate(11.5,143.1) rotate(-90)" font-size="14.3" text-anchor="middle">Coefficient</text>
<g transform="translate(91.90,289.80) rotate(-45)"><text x="-77.04" y="0" font-size="14.3">water</text><text x="-30.98" y="0" font-size="14.3">crops</text><line x1="-44.98" y1="-3.6" x2="-34.18" y2="-3.6" stroke="#111" stroke-width="1"/><path d="M-32.18,-3.6 L-35.58,-6.1 L-34.58,-3.6 L-35.58,-1.1 Z" fill="#111"/></g>
<g transform="translate(163.90,289.80) rotate(-45)"><text x="-72.28" y="0" font-size="14.3">trees</text><text x="-30.98" y="0" font-size="14.3">crops</text><line x1="-44.98" y1="-3.6" x2="-34.18" y2="-3.6" stroke="#111" stroke-width="1"/><path d="M-32.18,-3.6 L-35.58,-6.1 L-34.58,-3.6 L-35.58,-1.1 Z" fill="#111"/></g>
<g transform="translate(235.90,289.80) rotate(-45)"><text x="-98.89" y="0" font-size="14.3">crops</text><text x="-53.61" y="0" font-size="14.3">built area</text><line x1="-67.61" y1="-3.6" x2="-56.81" y2="-3.6" stroke="#111" stroke-width="1"/><path d="M-54.81,-3.6 L-58.21,-6.1 L-57.21,-3.6 L-58.21,-1.1 Z" fill="#111"/></g>
<g transform="translate(307.90,289.80) rotate(-45)"><text x="-72.28" y="0" font-size="14.3">crops</text><text x="-27.00" y="0" font-size="14.3">trees</text><line x1="-41.00" y1="-3.6" x2="-30.20" y2="-3.6" stroke="#111" stroke-width="1"/><path d="M-28.20,-3.6 L-31.60,-6.1 L-30.60,-3.6 L-31.60,-1.1 Z" fill="#111"/></g>
<g transform="translate(379.90,289.80) rotate(-45)"><text x="-98.89" y="0" font-size="14.3">built area</text><text x="-30.98" y="0" font-size="14.3">crops</text><line x1="-44.98" y1="-3.6" x2="-34.18" y2="-3.6" stroke="#111" stroke-width="1"/><path d="M-32.18,-3.6 L-35.58,-6.1 L-34.58,-3.6 L-35.58,-1.1 Z" fill="#111"/></g>
<g transform="translate(451.90,289.80) rotate(-45)"><text x="-98.89" y="0" font-size="14.3">crops</text><text x="-53.61" y="0" font-size="14.3">built area</text><line x1="-67.61" y1="-3.6" x2="-56.81" y2="-3.6" stroke="#111" stroke-width="1"/><path d="M-54.81,-3.6 L-58.21,-6.1 L-57.21,-3.6 L-58.21,-1.1 Z" fill="#111"/></g>
<g transform="translate(523.90,289.80) rotate(-45)"><text x="-72.28" y="0" font-size="14.3">trees</text><text x="-30.98" y="0" font-size="14.3">crops</text><line x1="-44.98" y1="-3.6" x2="-34.18" y2="-3.6" stroke="#111" stroke-width="1"/><path d="M-32.18,-3.6 L-35.58,-6.1 L-34.58,-3.6 L-35.58,-1.1 Z" fill="#111"/></g>
<g transform="translate(595.90,289.80) rotate(-45)"><text x="-77.04" y="0" font-size="14.3">crops</text><text x="-31.76" y="0" font-size="14.3">water</text><line x1="-45.76" y1="-3.6" x2="-34.96" y2="-3.6" stroke="#111" stroke-width="1"/><path d="M-32.96,-3.6 L-36.36,-6.1 L-35.36,-3.6 L-36.36,-1.1 Z" fill="#111"/></g>
<g transform="translate(667.90,289.80) rotate(-45)"><text x="-94.91" y="0" font-size="14.3">trees</text><text x="-53.61" y="0" font-size="14.3">built area</text><line x1="-67.61" y1="-3.6" x2="-56.81" y2="-3.6" stroke="#111" stroke-width="1"/><path d="M-54.81,-3.6 L-58.21,-6.1 L-57.21,-3.6 L-58.21,-1.1 Z" fill="#111"/></g>
</svg></body></html>
